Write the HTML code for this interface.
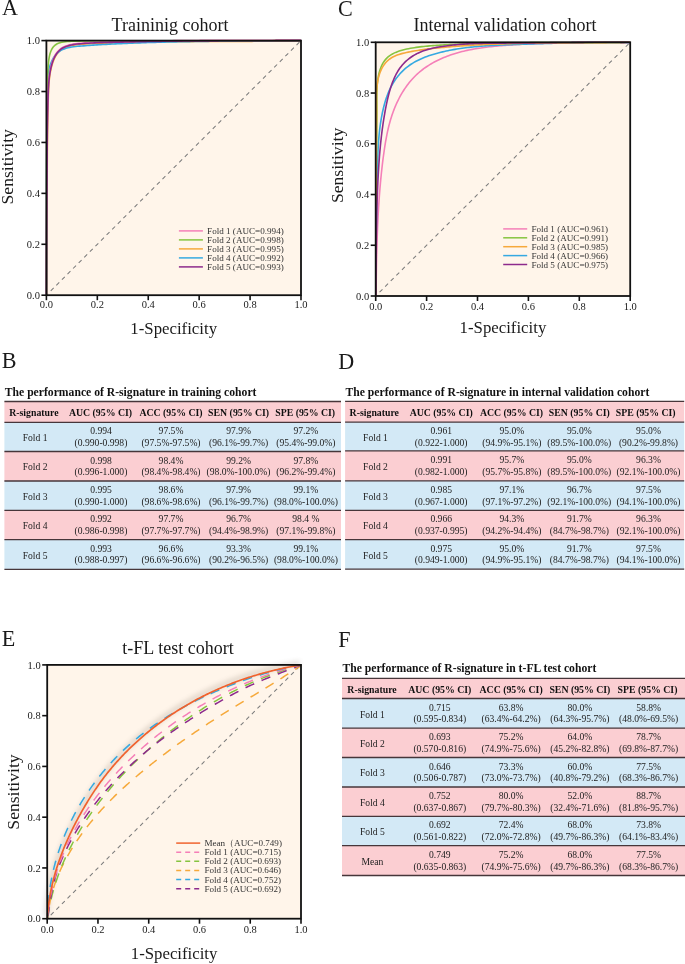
<!DOCTYPE html>
<html><head><meta charset="utf-8"><style>
html,body{margin:0;padding:0;background:#fff;width:685px;height:964px;overflow:hidden;position:relative}
text{font-family:"Liberation Serif",serif}
</style></head><body>
<svg width="685" height="964" viewBox="0 0 685 964" font-family="Liberation Serif, serif" style="position:absolute;left:0;top:0;will-change:transform">
<rect width="685" height="964" fill="#fff"/>
<defs><filter id="blur" x="-20%" y="-20%" width="140%" height="140%"><feGaussianBlur stdDeviation="2.8"/></filter></defs>
<text transform="translate(2.0,15.4) scale(0.95,1)" font-size="23.3" fill="#1a1a1a">A</text>
<text x="170.00" y="31.10" font-size="18" text-anchor="middle" font-weight="normal" fill="#1a1a1a" >Traininig cohort</text>
<rect x="46.4" y="40.599999999999994" width="254.6" height="254.6" fill="#fff5ea"/>
<line x1="301.0" y1="40.599999999999994" x2="46.4" y2="295.2" stroke="#7c7c7c" stroke-width="1.05" stroke-dasharray="4.1,3.8" stroke-dashoffset="5.7"/>
<path d="M46.72,295.77 L46.72,293.88 L46.72,291.99 L46.72,290.10 L46.72,288.21 L46.73,286.32 L46.73,284.43 L46.73,282.54 L46.73,280.65 L46.74,278.76 L46.74,276.87 L46.74,274.98 L46.75,273.08 L46.75,271.19 L46.76,269.30 L46.76,267.41 L46.76,265.51 L46.77,263.62 L46.77,261.72 L46.78,259.83 L46.78,257.93 L46.79,256.04 L46.80,254.14 L46.80,252.25 L46.81,250.35 L46.81,248.46 L46.82,246.56 L46.83,244.67 L46.84,242.77 L46.84,240.88 L46.85,238.98 L46.86,237.08 L46.86,235.19 L46.87,233.29 L46.88,231.39 L46.89,229.50 L46.90,227.60 L46.91,225.70 L46.92,223.81 L46.92,221.91 L46.93,220.01 L46.94,218.12 L46.95,216.22 L46.96,214.32 L46.97,212.43 L46.98,210.53 L46.99,208.63 L47.00,206.74 L47.01,204.84 L47.02,202.95 L47.03,201.05 L47.05,199.15 L47.06,197.26 L47.07,195.36 L47.08,193.47 L47.09,191.57 L47.10,189.68 L47.11,187.78 L47.13,185.89 L47.14,183.99 L47.15,182.10 L47.16,180.20 L47.18,178.31 L47.19,176.42 L47.20,174.52 L47.22,172.63 L47.23,170.74 L47.24,168.85 L47.26,166.96 L47.27,165.06 L47.28,163.17 L47.30,161.28 L47.31,159.39 L47.33,157.50 L47.34,155.61 L47.36,153.72 L47.37,151.83 L47.39,149.94 L47.40,148.06 L47.42,146.17 L47.44,144.28 L47.46,142.39 L47.47,140.50 L47.50,138.61 L47.52,136.72 L47.54,134.83 L47.56,132.94 L47.59,131.05 L47.61,129.16 L47.64,127.27 L47.67,125.38 L47.70,123.48 L47.73,121.59 L47.77,119.70 L47.80,117.80 L47.84,115.91 L47.88,114.01 L47.92,112.12 L47.97,110.22 L48.01,108.32 L48.06,106.42 L48.11,104.52 L48.16,102.62 L48.22,100.72 L48.28,98.81 L48.34,96.91 L48.40,95.00 L48.47,93.10 L48.54,91.19 L48.63,89.28 L48.73,87.37 L48.84,85.46 L48.97,83.56 L49.13,81.66 L49.32,79.76 L49.53,77.86 L49.77,75.97 L50.06,74.08 L50.38,72.19 L50.74,70.31 L51.15,68.44 L51.60,66.57 L52.11,64.72 L52.68,62.89 L53.32,61.10 L54.02,59.36 L54.81,57.69 L55.67,56.08 L56.62,54.56 L57.67,53.13 L58.81,51.81 L60.06,50.60 L61.43,49.53 L62.90,48.59 L64.47,47.78 L66.13,47.08 L67.87,46.49 L69.68,45.98 L71.55,45.56 L73.46,45.21 L75.40,44.92 L77.37,44.68 L79.35,44.48 L81.33,44.31 L83.30,44.16 L85.26,44.02 L87.21,43.89 L89.14,43.78 L91.06,43.67 L92.98,43.58 L94.88,43.49 L96.78,43.41 L98.67,43.34 L100.56,43.27 L102.44,43.21 L104.32,43.16 L106.19,43.11 L108.07,43.06 L109.95,43.01 L111.83,42.96 L113.70,42.91 L115.59,42.87 L117.47,42.82 L119.35,42.78 L121.24,42.73 L123.12,42.69 L125.01,42.64 L126.90,42.60 L128.78,42.56 L130.67,42.52 L132.56,42.48 L134.46,42.43 L136.35,42.40 L138.24,42.36 L140.13,42.32 L142.03,42.28 L143.92,42.24 L145.82,42.21 L147.72,42.17 L149.61,42.14 L151.51,42.10 L153.40,42.07 L155.30,42.04 L157.20,42.01 L159.10,41.98 L160.99,41.95 L162.89,41.92 L164.79,41.89 L166.69,41.87 L168.58,41.84 L170.48,41.81 L172.38,41.79 L174.28,41.77 L176.17,41.74 L178.07,41.72 L179.96,41.70 L181.86,41.68 L183.76,41.66 L185.65,41.64 L187.55,41.63 L189.44,41.61 L191.34,41.59 L193.23,41.58 L195.13,41.56 L197.02,41.55 L198.92,41.53 L200.81,41.52 L202.70,41.51 L204.60,41.50 L206.49,41.49 L208.39,41.48 L210.28,41.47 L212.17,41.46 L214.07,41.45 L215.96,41.44 L217.85,41.43 L219.75,41.42 L221.64,41.41 L223.53,41.41 L225.43,41.40 L227.32,41.39 L229.21,41.39 L231.11,41.38 L233.00,41.37 L234.89,41.37 L236.79,41.36 L238.68,41.36 L240.57,41.35 L242.47,41.35 L244.36,41.35 L246.25,41.34 L248.15,41.34 L250.04,41.33 L251.94,41.33 L253.83,41.32 L255.72,41.32 L257.62,41.32 L259.51,41.31 L261.40,41.31 L263.30,41.30 L265.19,41.30 L267.09,41.30 L268.98,41.29 L270.88,41.29 L272.77,41.28 L274.67,41.28 L276.56,41.27 L278.46,41.27 L280.35,41.26 L282.25,41.26 L284.14,41.25 L286.04,41.24 L287.93,41.24 L289.83,41.23 L291.73,41.22 L293.62,41.22 L295.52,41.21 L297.42,41.20 L299.32,41.19 L301.21,41.18" fill="none" stroke="#f6a93b" stroke-width="1.6" stroke-linecap="butt" />
<path d="M46.45,295.16 L46.47,293.28 L46.48,291.39 L46.49,289.51 L46.50,287.62 L46.51,285.74 L46.52,283.85 L46.53,281.96 L46.53,280.08 L46.54,278.19 L46.55,276.30 L46.55,274.41 L46.56,272.52 L46.57,270.63 L46.57,268.74 L46.57,266.85 L46.58,264.96 L46.58,263.07 L46.58,261.18 L46.59,259.28 L46.59,257.39 L46.59,255.50 L46.59,253.61 L46.59,251.71 L46.59,249.82 L46.59,247.92 L46.60,246.03 L46.60,244.14 L46.60,242.24 L46.60,240.35 L46.60,238.45 L46.59,236.56 L46.59,234.66 L46.59,232.77 L46.59,230.87 L46.59,228.98 L46.59,227.08 L46.59,225.18 L46.59,223.29 L46.59,221.39 L46.59,219.50 L46.59,217.60 L46.59,215.71 L46.59,213.81 L46.59,211.92 L46.59,210.02 L46.59,208.13 L46.59,206.23 L46.59,204.34 L46.59,202.44 L46.59,200.55 L46.60,198.66 L46.60,196.76 L46.60,194.87 L46.60,192.97 L46.61,191.08 L46.61,189.19 L46.61,187.30 L46.62,185.40 L46.62,183.51 L46.63,181.62 L46.64,179.73 L46.64,177.84 L46.65,175.95 L46.66,174.06 L46.67,172.17 L46.68,170.28 L46.69,168.39 L46.70,166.51 L46.71,164.62 L46.72,162.73 L46.73,160.85 L46.75,158.96 L46.76,157.08 L46.77,155.19 L46.79,153.31 L46.80,151.42 L46.82,149.54 L46.84,147.65 L46.85,145.77 L46.87,143.89 L46.88,142.00 L46.90,140.12 L46.92,138.23 L46.93,136.34 L46.95,134.46 L46.97,132.57 L46.98,130.68 L47.00,128.80 L47.01,126.91 L47.02,125.02 L47.04,123.12 L47.05,121.23 L47.06,119.34 L47.08,117.44 L47.09,115.55 L47.10,113.65 L47.10,111.75 L47.11,109.85 L47.12,107.95 L47.12,106.04 L47.13,104.14 L47.13,102.23 L47.13,100.32 L47.13,98.41 L47.13,96.49 L47.13,94.58 L47.13,92.66 L47.13,90.74 L47.14,88.82 L47.16,86.91 L47.21,84.99 L47.27,83.08 L47.37,81.18 L47.50,79.28 L47.67,77.39 L47.89,75.50 L48.15,73.63 L48.47,71.77 L48.85,69.91 L49.29,68.08 L49.80,66.26 L50.38,64.46 L51.04,62.70 L51.78,60.98 L52.61,59.33 L53.52,57.75 L54.52,56.25 L55.62,54.84 L56.81,53.54 L58.11,52.36 L59.51,51.31 L61.01,50.39 L62.61,49.59 L64.29,48.90 L66.05,48.31 L67.87,47.81 L69.74,47.40 L71.66,47.05 L73.62,46.76 L75.60,46.52 L77.59,46.32 L79.59,46.15 L81.58,45.99 L83.56,45.84 L85.52,45.70 L87.46,45.56 L89.40,45.42 L91.32,45.29 L93.23,45.16 L95.12,45.03 L97.01,44.91 L98.89,44.79 L100.77,44.68 L102.64,44.57 L104.50,44.46 L106.36,44.35 L108.22,44.25 L110.08,44.15 L111.94,44.05 L113.80,43.95 L115.66,43.86 L117.52,43.77 L119.39,43.68 L121.26,43.59 L123.14,43.51 L125.01,43.42 L126.89,43.34 L128.77,43.26 L130.65,43.19 L132.54,43.11 L134.42,43.04 L136.31,42.97 L138.20,42.90 L140.09,42.83 L141.99,42.76 L143.88,42.70 L145.78,42.63 L147.67,42.57 L149.57,42.51 L151.47,42.46 L153.36,42.40 L155.26,42.35 L157.16,42.29 L159.06,42.24 L160.96,42.19 L162.86,42.14 L164.76,42.10 L166.66,42.05 L168.56,42.01 L170.46,41.96 L172.35,41.92 L174.25,41.88 L176.15,41.84 L178.04,41.80 L179.94,41.77 L181.83,41.73 L183.73,41.70 L185.62,41.66 L187.52,41.63 L189.41,41.60 L191.30,41.57 L193.20,41.54 L195.09,41.51 L196.98,41.49 L198.87,41.46 L200.76,41.43 L202.65,41.41 L204.55,41.39 L206.44,41.36 L208.33,41.34 L210.22,41.32 L212.11,41.30 L214.00,41.28 L215.89,41.26 L217.78,41.24 L219.67,41.22 L221.55,41.20 L223.44,41.19 L225.33,41.17 L227.22,41.15 L229.11,41.14 L231.00,41.12 L232.89,41.11 L234.78,41.09 L236.67,41.08 L238.56,41.07 L240.44,41.05 L242.33,41.04 L244.22,41.03 L246.11,41.01 L248.00,41.00 L249.89,40.99 L251.78,40.97 L253.67,40.96 L255.56,40.95 L257.45,40.94 L259.34,40.92 L261.23,40.91 L263.13,40.90 L265.02,40.88 L266.91,40.87 L268.80,40.86 L270.69,40.84 L272.59,40.83 L274.48,40.82 L276.37,40.80 L278.27,40.79 L280.16,40.77 L282.06,40.76 L283.95,40.74 L285.85,40.72 L287.75,40.71 L289.64,40.69 L291.54,40.67 L293.44,40.65 L295.34,40.63 L297.24,40.62 L299.14,40.60 L301.04,40.57" fill="none" stroke="#35a9e1" stroke-width="1.6" stroke-linecap="butt" />
<path d="M46.51,295.18 L46.51,293.26 L46.51,291.35 L46.51,289.43 L46.51,287.51 L46.51,285.59 L46.51,283.66 L46.51,281.74 L46.51,279.82 L46.51,277.89 L46.52,275.97 L46.52,274.04 L46.52,272.11 L46.53,270.19 L46.53,268.26 L46.53,266.33 L46.54,264.40 L46.54,262.47 L46.54,260.54 L46.55,258.61 L46.55,256.68 L46.56,254.75 L46.56,252.82 L46.56,250.89 L46.57,248.96 L46.57,247.03 L46.58,245.10 L46.58,243.17 L46.58,241.24 L46.59,239.31 L46.59,237.38 L46.59,235.45 L46.60,233.52 L46.60,231.60 L46.60,229.67 L46.60,227.75 L46.60,225.82 L46.61,223.90 L46.61,221.97 L46.61,220.05 L46.61,218.13 L46.61,216.21 L46.61,214.29 L46.61,212.36 L46.61,210.44 L46.61,208.52 L46.61,206.60 L46.62,204.68 L46.62,202.76 L46.62,200.84 L46.62,198.92 L46.62,197.00 L46.62,195.08 L46.62,193.16 L46.62,191.24 L46.62,189.31 L46.62,187.39 L46.62,185.47 L46.63,183.55 L46.63,181.62 L46.63,179.70 L46.63,177.77 L46.63,175.85 L46.64,173.92 L46.64,172.00 L46.64,170.07 L46.65,168.14 L46.65,166.21 L46.65,164.28 L46.66,162.35 L46.66,160.41 L46.67,158.48 L46.68,156.54 L46.68,154.61 L46.69,152.67 L46.70,150.74 L46.70,148.80 L46.71,146.86 L46.72,144.93 L46.73,142.99 L46.74,141.05 L46.75,139.12 L46.76,137.18 L46.77,135.25 L46.78,133.31 L46.79,131.38 L46.81,129.45 L46.82,127.51 L46.83,125.58 L46.85,123.66 L46.86,121.73 L46.88,119.80 L46.90,117.88 L46.91,115.96 L46.93,114.04 L46.95,112.12 L46.97,110.20 L46.98,108.29 L47.00,106.38 L47.03,104.47 L47.05,102.57 L47.07,100.67 L47.09,98.77 L47.11,96.87 L47.14,94.98 L47.16,93.09 L47.19,91.20 L47.22,89.31 L47.25,87.42 L47.29,85.52 L47.34,83.62 L47.39,81.71 L47.45,79.79 L47.52,77.85 L47.60,75.90 L47.69,73.93 L47.79,71.95 L47.91,69.94 L48.04,67.91 L48.19,65.85 L48.37,63.78 L48.57,61.71 L48.83,59.65 L49.14,57.64 L49.53,55.68 L50.00,53.79 L50.58,51.99 L51.26,50.30 L52.07,48.73 L53.01,47.31 L54.10,46.05 L55.35,44.97 L56.76,44.07 L58.32,43.34 L60.00,42.76 L61.78,42.31 L63.66,41.97 L65.59,41.72 L67.58,41.54 L69.59,41.42 L71.60,41.32 L73.61,41.25 L75.60,41.19 L77.58,41.14 L79.55,41.10 L81.51,41.06 L83.45,41.04 L85.39,41.02 L87.33,41.01 L89.25,41.01 L91.18,41.01 L93.09,41.01 L95.01,41.01 L96.92,41.02 L98.83,41.02 L100.75,41.03 L102.66,41.03 L104.57,41.04 L106.49,41.04 L108.41,41.04 L110.32,41.04 L112.24,41.04 L114.16,41.04 L116.08,41.03 L118.00,41.03 L119.93,41.02 L121.85,41.02 L123.77,41.01 L125.69,41.00 L127.62,41.00 L129.54,40.99 L131.47,40.98 L133.40,40.97 L135.32,40.96 L137.25,40.95 L139.18,40.94 L141.10,40.93 L143.03,40.92 L144.96,40.91 L146.89,40.90 L148.82,40.89 L150.75,40.88 L152.67,40.87 L154.60,40.86 L156.53,40.85 L158.46,40.84 L160.39,40.83 L162.32,40.82 L164.25,40.81 L166.17,40.81 L168.10,40.80 L170.03,40.79 L171.96,40.78 L173.89,40.78 L175.81,40.77 L177.74,40.77 L179.67,40.76 L181.59,40.76 L183.52,40.75 L185.45,40.75 L187.37,40.74 L189.30,40.74 L191.23,40.74 L193.15,40.73 L195.08,40.73 L197.01,40.73 L198.93,40.73 L200.86,40.73 L202.78,40.72 L204.71,40.72 L206.63,40.72 L208.56,40.72 L210.48,40.72 L212.41,40.72 L214.34,40.72 L216.26,40.72 L218.19,40.72 L220.11,40.72 L222.04,40.72 L223.96,40.72 L225.89,40.71 L227.81,40.71 L229.74,40.71 L231.66,40.71 L233.59,40.71 L235.51,40.71 L237.44,40.71 L239.36,40.71 L241.29,40.71 L243.21,40.71 L245.14,40.71 L247.06,40.71 L248.99,40.71 L250.91,40.71 L252.84,40.70 L254.77,40.70 L256.69,40.70 L258.62,40.70 L260.54,40.70 L262.47,40.69 L264.39,40.69 L266.32,40.69 L268.25,40.68 L270.17,40.68 L272.10,40.68 L274.03,40.67 L275.95,40.67 L277.88,40.66 L279.81,40.66 L281.73,40.65 L283.66,40.64 L285.59,40.64 L287.51,40.63 L289.44,40.62 L291.37,40.61 L293.30,40.60 L295.23,40.60 L297.15,40.59 L299.08,40.58 L301.01,40.56" fill="none" stroke="#86c440" stroke-width="1.6" stroke-linecap="butt" />
<path d="M46.32,294.67 L46.32,292.78 L46.32,290.89 L46.32,289.00 L46.32,287.11 L46.33,285.22 L46.33,283.33 L46.33,281.44 L46.33,279.55 L46.34,277.66 L46.34,275.77 L46.34,273.88 L46.35,271.98 L46.35,270.09 L46.36,268.20 L46.36,266.31 L46.36,264.41 L46.37,262.52 L46.37,260.62 L46.38,258.73 L46.38,256.83 L46.39,254.94 L46.40,253.04 L46.40,251.15 L46.41,249.25 L46.41,247.36 L46.42,245.46 L46.43,243.57 L46.44,241.67 L46.44,239.78 L46.45,237.88 L46.46,235.98 L46.46,234.09 L46.47,232.19 L46.48,230.29 L46.49,228.40 L46.50,226.50 L46.51,224.60 L46.52,222.71 L46.52,220.81 L46.53,218.91 L46.54,217.02 L46.55,215.12 L46.56,213.22 L46.57,211.33 L46.58,209.43 L46.59,207.53 L46.60,205.64 L46.61,203.74 L46.62,201.85 L46.63,199.95 L46.65,198.05 L46.66,196.16 L46.67,194.26 L46.68,192.37 L46.69,190.47 L46.70,188.58 L46.71,186.68 L46.73,184.79 L46.74,182.89 L46.75,181.00 L46.76,179.10 L46.78,177.21 L46.79,175.32 L46.80,173.42 L46.82,171.53 L46.83,169.64 L46.84,167.75 L46.86,165.86 L46.87,163.96 L46.88,162.07 L46.90,160.18 L46.91,158.29 L46.93,156.40 L46.94,154.51 L46.96,152.62 L46.97,150.73 L46.99,148.84 L47.00,146.96 L47.02,145.07 L47.04,143.18 L47.06,141.29 L47.07,139.40 L47.10,137.51 L47.12,135.62 L47.14,133.73 L47.16,131.84 L47.19,129.95 L47.21,128.06 L47.24,126.17 L47.27,124.28 L47.30,122.38 L47.33,120.49 L47.37,118.60 L47.40,116.70 L47.44,114.81 L47.48,112.91 L47.52,111.02 L47.57,109.12 L47.61,107.22 L47.66,105.32 L47.71,103.42 L47.76,101.52 L47.82,99.62 L47.88,97.71 L47.94,95.81 L48.00,93.90 L48.07,92.00 L48.14,90.09 L48.23,88.18 L48.33,86.27 L48.44,84.36 L48.57,82.46 L48.73,80.56 L48.92,78.66 L49.13,76.76 L49.37,74.87 L49.66,72.98 L49.98,71.09 L50.34,69.21 L50.75,67.34 L51.20,65.47 L51.71,63.62 L52.28,61.79 L52.92,60.00 L53.62,58.26 L54.41,56.59 L55.27,54.98 L56.22,53.46 L57.27,52.03 L58.41,50.71 L59.66,49.50 L61.03,48.43 L62.50,47.49 L64.07,46.68 L65.73,45.98 L67.47,45.39 L69.28,44.88 L71.15,44.46 L73.06,44.11 L75.00,43.82 L76.97,43.58 L78.95,43.38 L80.93,43.21 L82.90,43.06 L84.86,42.92 L86.81,42.79 L88.74,42.68 L90.66,42.57 L92.58,42.48 L94.48,42.39 L96.38,42.31 L98.27,42.24 L100.16,42.17 L102.04,42.11 L103.92,42.06 L105.79,42.01 L107.67,41.96 L109.55,41.91 L111.43,41.86 L113.30,41.81 L115.19,41.77 L117.07,41.72 L118.95,41.68 L120.84,41.63 L122.72,41.59 L124.61,41.54 L126.50,41.50 L128.38,41.46 L130.27,41.42 L132.16,41.38 L134.06,41.33 L135.95,41.30 L137.84,41.26 L139.73,41.22 L141.63,41.18 L143.52,41.14 L145.42,41.11 L147.32,41.07 L149.21,41.04 L151.11,41.00 L153.00,40.97 L154.90,40.94 L156.80,40.91 L158.70,40.88 L160.59,40.85 L162.49,40.82 L164.39,40.79 L166.29,40.77 L168.18,40.74 L170.08,40.71 L171.98,40.69 L173.88,40.67 L175.77,40.64 L177.67,40.62 L179.56,40.60 L181.46,40.58 L183.36,40.56 L185.25,40.54 L187.15,40.53 L189.04,40.51 L190.94,40.49 L192.83,40.48 L194.73,40.46 L196.62,40.45 L198.52,40.43 L200.41,40.42 L202.30,40.41 L204.20,40.40 L206.09,40.39 L207.99,40.38 L209.88,40.37 L211.77,40.36 L213.67,40.35 L215.56,40.34 L217.45,40.33 L219.35,40.32 L221.24,40.31 L223.13,40.31 L225.03,40.30 L226.92,40.29 L228.81,40.29 L230.71,40.28 L232.60,40.27 L234.49,40.27 L236.39,40.26 L238.28,40.26 L240.17,40.25 L242.07,40.25 L243.96,40.25 L245.85,40.24 L247.75,40.24 L249.64,40.23 L251.54,40.23 L253.43,40.22 L255.32,40.22 L257.22,40.22 L259.11,40.21 L261.00,40.21 L262.90,40.20 L264.79,40.20 L266.69,40.20 L268.58,40.19 L270.48,40.19 L272.37,40.18 L274.27,40.18 L276.16,40.17 L278.06,40.17 L279.95,40.16 L281.85,40.16 L283.74,40.15 L285.64,40.14 L287.53,40.14 L289.43,40.13 L291.33,40.12 L293.22,40.12 L295.12,40.11 L297.02,40.10 L298.92,40.09 L300.81,40.08" fill="none" stroke="#f57fb8" stroke-width="1.6" stroke-linecap="butt" />
<path d="M46.52,295.17 L46.52,293.28 L46.52,291.39 L46.52,289.50 L46.52,287.61 L46.53,285.72 L46.53,283.83 L46.53,281.94 L46.53,280.05 L46.54,278.16 L46.54,276.27 L46.54,274.38 L46.55,272.48 L46.55,270.59 L46.56,268.70 L46.56,266.81 L46.56,264.91 L46.57,263.02 L46.57,261.12 L46.58,259.23 L46.58,257.33 L46.59,255.44 L46.60,253.54 L46.60,251.65 L46.61,249.75 L46.61,247.86 L46.62,245.96 L46.63,244.07 L46.64,242.17 L46.64,240.28 L46.65,238.38 L46.66,236.48 L46.66,234.59 L46.67,232.69 L46.68,230.79 L46.69,228.90 L46.70,227.00 L46.71,225.10 L46.72,223.21 L46.72,221.31 L46.73,219.41 L46.74,217.52 L46.75,215.62 L46.76,213.72 L46.77,211.83 L46.78,209.93 L46.79,208.03 L46.80,206.14 L46.81,204.24 L46.82,202.35 L46.83,200.45 L46.85,198.55 L46.86,196.66 L46.87,194.76 L46.88,192.87 L46.89,190.97 L46.90,189.08 L46.91,187.18 L46.93,185.29 L46.94,183.39 L46.95,181.50 L46.96,179.60 L46.98,177.71 L46.99,175.82 L47.00,173.92 L47.02,172.03 L47.03,170.14 L47.04,168.25 L47.06,166.36 L47.07,164.46 L47.08,162.57 L47.10,160.68 L47.11,158.79 L47.13,156.90 L47.14,155.01 L47.16,153.12 L47.17,151.23 L47.19,149.34 L47.20,147.46 L47.22,145.57 L47.24,143.68 L47.26,141.79 L47.27,139.90 L47.30,138.01 L47.32,136.12 L47.34,134.23 L47.36,132.34 L47.39,130.45 L47.41,128.56 L47.44,126.67 L47.47,124.78 L47.50,122.88 L47.53,120.99 L47.57,119.10 L47.60,117.20 L47.64,115.31 L47.68,113.41 L47.72,111.52 L47.77,109.62 L47.81,107.72 L47.86,105.82 L47.91,103.92 L47.96,102.02 L48.02,100.12 L48.08,98.21 L48.14,96.31 L48.20,94.40 L48.27,92.50 L48.34,90.59 L48.43,88.68 L48.53,86.77 L48.64,84.86 L48.77,82.96 L48.93,81.06 L49.12,79.16 L49.33,77.26 L49.57,75.37 L49.86,73.48 L50.18,71.59 L50.54,69.71 L50.95,67.84 L51.40,65.97 L51.91,64.12 L52.48,62.29 L53.12,60.50 L53.82,58.76 L54.61,57.09 L55.47,55.48 L56.42,53.96 L57.47,52.53 L58.61,51.21 L59.86,50.00 L61.23,48.93 L62.70,47.99 L64.27,47.18 L65.93,46.48 L67.67,45.89 L69.48,45.38 L71.35,44.96 L73.26,44.61 L75.20,44.32 L77.17,44.08 L79.15,43.88 L81.13,43.71 L83.10,43.56 L85.06,43.42 L87.01,43.29 L88.94,43.18 L90.86,43.07 L92.78,42.98 L94.68,42.89 L96.58,42.81 L98.47,42.74 L100.36,42.67 L102.24,42.61 L104.12,42.56 L105.99,42.51 L107.87,42.46 L109.75,42.41 L111.63,42.36 L113.50,42.31 L115.39,42.27 L117.27,42.22 L119.15,42.18 L121.04,42.13 L122.92,42.09 L124.81,42.04 L126.70,42.00 L128.58,41.96 L130.47,41.92 L132.36,41.88 L134.26,41.83 L136.15,41.80 L138.04,41.76 L139.93,41.72 L141.83,41.68 L143.72,41.64 L145.62,41.61 L147.52,41.57 L149.41,41.54 L151.31,41.50 L153.20,41.47 L155.10,41.44 L157.00,41.41 L158.90,41.38 L160.79,41.35 L162.69,41.32 L164.59,41.29 L166.49,41.27 L168.38,41.24 L170.28,41.21 L172.18,41.19 L174.08,41.17 L175.97,41.14 L177.87,41.12 L179.76,41.10 L181.66,41.08 L183.56,41.06 L185.45,41.04 L187.35,41.03 L189.24,41.01 L191.14,40.99 L193.03,40.98 L194.93,40.96 L196.82,40.95 L198.72,40.93 L200.61,40.92 L202.50,40.91 L204.40,40.90 L206.29,40.89 L208.19,40.88 L210.08,40.87 L211.97,40.86 L213.87,40.85 L215.76,40.84 L217.65,40.83 L219.55,40.82 L221.44,40.81 L223.33,40.81 L225.23,40.80 L227.12,40.79 L229.01,40.79 L230.91,40.78 L232.80,40.77 L234.69,40.77 L236.59,40.76 L238.48,40.76 L240.37,40.75 L242.27,40.75 L244.16,40.75 L246.05,40.74 L247.95,40.74 L249.84,40.73 L251.74,40.73 L253.63,40.72 L255.52,40.72 L257.42,40.72 L259.31,40.71 L261.20,40.71 L263.10,40.70 L264.99,40.70 L266.89,40.70 L268.78,40.69 L270.68,40.69 L272.57,40.68 L274.47,40.68 L276.36,40.67 L278.26,40.67 L280.15,40.66 L282.05,40.66 L283.94,40.65 L285.84,40.64 L287.73,40.64 L289.63,40.63 L291.53,40.62 L293.42,40.62 L295.32,40.61 L297.22,40.60 L299.12,40.59 L301.01,40.58" fill="none" stroke="#8d2a8c" stroke-width="1.6" stroke-linecap="butt" />
<rect x="46.4" y="40.599999999999994" width="254.6" height="254.6" fill="none" stroke="#111" stroke-width="1.8"/>
<line x1="41.4" y1="295.20" x2="46.4" y2="295.20" stroke="#111" stroke-width="1.6"/>
<text x="39.90" y="298.80" font-size="10.5" text-anchor="end" font-weight="normal" fill="#1a1a1a" >0.0</text>
<line x1="46.40" y1="295.2" x2="46.40" y2="300.2" stroke="#111" stroke-width="1.6"/>
<text x="46.40" y="308.20" font-size="10.5" text-anchor="middle" font-weight="normal" fill="#1a1a1a" >0.0</text>
<line x1="41.4" y1="244.28" x2="46.4" y2="244.28" stroke="#111" stroke-width="1.6"/>
<text x="39.90" y="247.88" font-size="10.5" text-anchor="end" font-weight="normal" fill="#1a1a1a" >0.2</text>
<line x1="97.32" y1="295.2" x2="97.32" y2="300.2" stroke="#111" stroke-width="1.6"/>
<text x="97.32" y="308.20" font-size="10.5" text-anchor="middle" font-weight="normal" fill="#1a1a1a" >0.2</text>
<line x1="41.4" y1="193.36" x2="46.4" y2="193.36" stroke="#111" stroke-width="1.6"/>
<text x="39.90" y="196.96" font-size="10.5" text-anchor="end" font-weight="normal" fill="#1a1a1a" >0.4</text>
<line x1="148.24" y1="295.2" x2="148.24" y2="300.2" stroke="#111" stroke-width="1.6"/>
<text x="148.24" y="308.20" font-size="10.5" text-anchor="middle" font-weight="normal" fill="#1a1a1a" >0.4</text>
<line x1="41.4" y1="142.44" x2="46.4" y2="142.44" stroke="#111" stroke-width="1.6"/>
<text x="39.90" y="146.04" font-size="10.5" text-anchor="end" font-weight="normal" fill="#1a1a1a" >0.6</text>
<line x1="199.16" y1="295.2" x2="199.16" y2="300.2" stroke="#111" stroke-width="1.6"/>
<text x="199.16" y="308.20" font-size="10.5" text-anchor="middle" font-weight="normal" fill="#1a1a1a" >0.6</text>
<line x1="41.4" y1="91.52" x2="46.4" y2="91.52" stroke="#111" stroke-width="1.6"/>
<text x="39.90" y="95.12" font-size="10.5" text-anchor="end" font-weight="normal" fill="#1a1a1a" >0.8</text>
<line x1="250.08" y1="295.2" x2="250.08" y2="300.2" stroke="#111" stroke-width="1.6"/>
<text x="250.08" y="308.20" font-size="10.5" text-anchor="middle" font-weight="normal" fill="#1a1a1a" >0.8</text>
<line x1="41.4" y1="40.60" x2="46.4" y2="40.60" stroke="#111" stroke-width="1.6"/>
<text x="39.90" y="44.20" font-size="10.5" text-anchor="end" font-weight="normal" fill="#1a1a1a" >1.0</text>
<line x1="301.00" y1="295.2" x2="301.00" y2="300.2" stroke="#111" stroke-width="1.6"/>
<text x="301.00" y="308.20" font-size="10.5" text-anchor="middle" font-weight="normal" fill="#1a1a1a" >1.0</text>
<text x="173.70" y="333.80" font-size="16.8" text-anchor="middle" font-weight="normal" fill="#1a1a1a" >1-Specificity</text>
<text x="0" y="0" font-size="17.6" text-anchor="middle" fill="#1a1a1a" transform="translate(13.0,166.8) rotate(-90)">Sensitivity</text>
<line x1="178.9" y1="230.90" x2="202.9" y2="230.90" stroke="#f57fb8" stroke-width="1.5"/>
<text x="207.10" y="233.90" font-size="9.1" text-anchor="start" font-weight="normal" fill="#333" >Fold 1 (AUC=0.994)</text>
<line x1="178.9" y1="239.90" x2="202.9" y2="239.90" stroke="#86c440" stroke-width="1.5"/>
<text x="207.10" y="242.90" font-size="9.1" text-anchor="start" font-weight="normal" fill="#333" >Fold 2 (AUC=0.998)</text>
<line x1="178.9" y1="248.90" x2="202.9" y2="248.90" stroke="#f6a93b" stroke-width="1.5"/>
<text x="207.10" y="251.90" font-size="9.1" text-anchor="start" font-weight="normal" fill="#333" >Fold 3 (AUC=0.995)</text>
<line x1="178.9" y1="257.90" x2="202.9" y2="257.90" stroke="#35a9e1" stroke-width="1.5"/>
<text x="207.10" y="260.90" font-size="9.1" text-anchor="start" font-weight="normal" fill="#333" >Fold 4 (AUC=0.992)</text>
<line x1="178.9" y1="266.90" x2="202.9" y2="266.90" stroke="#8d2a8c" stroke-width="1.5"/>
<text x="207.10" y="269.90" font-size="9.1" text-anchor="start" font-weight="normal" fill="#333" >Fold 5 (AUC=0.993)</text>
<text transform="translate(338.0,16.1) scale(0.95,1)" font-size="23.3" fill="#1a1a1a">C</text>
<text x="505.00" y="31.10" font-size="18" text-anchor="middle" font-weight="normal" fill="#1a1a1a" >Internal validation cohort</text>
<rect x="375.7" y="42.30000000000001" width="254.5" height="253.7" fill="#fff5ea"/>
<line x1="630.2" y1="42.30000000000001" x2="375.7" y2="296.0" stroke="#7c7c7c" stroke-width="1.05" stroke-dasharray="4.1,3.8" stroke-dashoffset="5.7"/>
<path d="M376.07,296.01 L376.08,294.27 L376.10,292.53 L376.12,290.79 L376.13,289.05 L376.15,287.31 L376.17,285.57 L376.19,283.83 L376.21,282.09 L376.23,280.35 L376.26,278.61 L376.28,276.87 L376.30,275.13 L376.33,273.39 L376.35,271.65 L376.38,269.91 L376.41,268.18 L376.44,266.44 L376.47,264.70 L376.50,262.96 L376.54,261.22 L376.57,259.48 L376.61,257.74 L376.65,256.00 L376.69,254.26 L376.73,252.52 L376.78,250.78 L376.82,249.04 L376.87,247.30 L376.92,245.56 L376.97,243.82 L377.02,242.09 L377.08,240.35 L377.14,238.61 L377.19,236.87 L377.26,235.13 L377.32,233.40 L377.39,231.66 L377.46,229.92 L377.53,228.18 L377.60,226.45 L377.68,224.71 L377.76,222.97 L377.84,221.24 L377.92,219.50 L378.01,217.77 L378.10,216.03 L378.19,214.30 L378.29,212.56 L378.39,210.83 L378.49,209.09 L378.59,207.36 L378.70,205.62 L378.81,203.89 L378.93,202.16 L379.05,200.43 L379.17,198.69 L379.29,196.96 L379.42,195.23 L379.55,193.50 L379.69,191.77 L379.83,190.04 L379.97,188.31 L380.12,186.58 L380.27,184.85 L380.42,183.12 L380.58,181.40 L380.74,179.67 L380.91,177.94 L381.08,176.21 L381.25,174.49 L381.43,172.76 L381.62,171.04 L381.80,169.31 L382.00,167.59 L382.20,165.86 L382.40,164.14 L382.61,162.41 L382.82,160.69 L383.04,158.96 L383.27,157.24 L383.50,155.51 L383.74,153.79 L383.98,152.06 L384.23,150.34 L384.48,148.61 L384.75,146.88 L385.02,145.16 L385.30,143.44 L385.59,141.71 L385.89,139.99 L386.20,138.27 L386.52,136.56 L386.86,134.84 L387.21,133.13 L387.57,131.42 L387.95,129.71 L388.35,128.01 L388.76,126.31 L389.19,124.62 L389.64,122.93 L390.11,121.25 L390.60,119.57 L391.11,117.90 L391.65,116.23 L392.20,114.57 L392.78,112.92 L393.38,111.27 L394.00,109.64 L394.64,108.01 L395.31,106.40 L396.00,104.79 L396.72,103.20 L397.46,101.62 L398.22,100.06 L399.00,98.51 L399.81,96.97 L400.64,95.45 L401.50,93.95 L402.39,92.46 L403.29,90.99 L404.23,89.54 L405.18,88.11 L406.17,86.70 L407.17,85.31 L408.21,83.95 L409.27,82.60 L410.36,81.28 L411.47,79.98 L412.61,78.71 L413.77,77.46 L414.97,76.24 L416.19,75.04 L417.43,73.88 L418.71,72.74 L420.01,71.63 L421.34,70.55 L422.69,69.50 L424.07,68.47 L425.47,67.48 L426.90,66.51 L428.34,65.57 L429.81,64.65 L431.30,63.77 L432.80,62.91 L434.33,62.07 L435.87,61.26 L437.42,60.48 L438.99,59.72 L440.58,58.99 L442.18,58.28 L443.79,57.60 L445.41,56.94 L447.04,56.30 L448.68,55.69 L450.33,55.10 L451.98,54.54 L453.64,53.99 L455.31,53.47 L456.98,52.97 L458.66,52.49 L460.34,52.04 L462.03,51.60 L463.72,51.18 L465.41,50.78 L467.11,50.40 L468.82,50.03 L470.52,49.69 L472.23,49.36 L473.95,49.04 L475.66,48.74 L477.38,48.46 L479.10,48.18 L480.83,47.93 L482.55,47.68 L484.28,47.45 L486.01,47.23 L487.75,47.01 L489.48,46.81 L491.22,46.62 L492.95,46.44 L494.69,46.27 L496.43,46.10 L498.17,45.95 L499.91,45.79 L501.64,45.65 L503.38,45.51 L505.12,45.38 L506.86,45.25 L508.60,45.12 L510.34,45.00 L512.08,44.88 L513.81,44.77 L515.55,44.66 L517.29,44.55 L519.02,44.45 L520.76,44.35 L522.50,44.26 L524.23,44.17 L525.97,44.08 L527.70,44.00 L529.44,43.91 L531.17,43.84 L532.91,43.76 L534.64,43.69 L536.38,43.62 L538.11,43.55 L539.84,43.49 L541.58,43.43 L543.31,43.37 L545.05,43.32 L546.78,43.27 L548.51,43.22 L550.25,43.17 L551.98,43.12 L553.71,43.08 L555.45,43.04 L557.18,43.00 L558.92,42.96 L560.65,42.93 L562.38,42.90 L564.12,42.86 L565.85,42.83 L567.59,42.81 L569.32,42.78 L571.06,42.76 L572.79,42.73 L574.53,42.71 L576.26,42.69 L578.00,42.67 L579.73,42.65 L581.47,42.63 L583.21,42.62 L584.94,42.60 L586.68,42.59 L588.42,42.57 L590.15,42.56 L591.89,42.55 L593.63,42.54 L595.37,42.52 L597.11,42.51 L598.85,42.50 L600.59,42.49 L602.33,42.48 L604.07,42.47 L605.81,42.46 L607.56,42.45 L609.30,42.44 L611.04,42.43 L612.78,42.42 L614.53,42.40 L616.27,42.39 L618.02,42.38 L619.77,42.37 L621.51,42.35 L623.26,42.34 L625.01,42.32 L626.76,42.31 L628.51,42.29 L630.26,42.27" fill="none" stroke="#f57fb8" stroke-width="1.6" stroke-linecap="butt" />
<path d="M376.14,296.06 L376.12,294.25 L376.10,292.45 L376.09,290.65 L376.07,288.85 L376.06,287.05 L376.05,285.25 L376.04,283.45 L376.03,281.65 L376.02,279.86 L376.02,278.06 L376.01,276.27 L376.01,274.47 L376.01,272.68 L376.01,270.88 L376.01,269.09 L376.01,267.30 L376.01,265.50 L376.02,263.71 L376.02,261.92 L376.03,260.13 L376.04,258.34 L376.05,256.55 L376.06,254.76 L376.07,252.97 L376.08,251.18 L376.09,249.39 L376.11,247.60 L376.12,245.81 L376.14,244.02 L376.16,242.24 L376.17,240.45 L376.19,238.66 L376.21,236.87 L376.23,235.09 L376.26,233.30 L376.28,231.51 L376.30,229.72 L376.33,227.94 L376.35,226.15 L376.38,224.36 L376.40,222.58 L376.43,220.79 L376.46,219.00 L376.49,217.22 L376.52,215.43 L376.55,213.64 L376.58,211.85 L376.61,210.07 L376.64,208.28 L376.67,206.49 L376.71,204.70 L376.74,202.92 L376.77,201.13 L376.81,199.34 L376.84,197.55 L376.88,195.76 L376.92,193.97 L376.95,192.18 L376.99,190.39 L377.03,188.60 L377.06,186.81 L377.10,185.02 L377.14,183.23 L377.18,181.44 L377.22,179.64 L377.26,177.85 L377.30,176.06 L377.34,174.26 L377.38,172.47 L377.42,170.67 L377.46,168.88 L377.50,167.08 L377.54,165.29 L377.59,163.49 L377.64,161.69 L377.69,159.90 L377.75,158.10 L377.81,156.30 L377.87,154.51 L377.94,152.71 L378.02,150.92 L378.11,149.12 L378.20,147.33 L378.30,145.53 L378.41,143.74 L378.53,141.95 L378.66,140.16 L378.80,138.37 L378.96,136.59 L379.12,134.80 L379.30,133.02 L379.49,131.24 L379.69,129.45 L379.91,127.68 L380.14,125.90 L380.39,124.13 L380.65,122.35 L380.93,120.58 L381.23,118.82 L381.54,117.05 L381.88,115.29 L382.23,113.53 L382.60,111.77 L382.99,110.02 L383.41,108.27 L383.84,106.52 L384.30,104.78 L384.78,103.04 L385.29,101.31 L385.82,99.58 L386.39,97.87 L386.98,96.17 L387.60,94.49 L388.26,92.82 L388.96,91.16 L389.69,89.53 L390.46,87.92 L391.27,86.34 L392.12,84.77 L393.01,83.24 L393.94,81.73 L394.91,80.25 L395.93,78.80 L396.98,77.38 L398.07,76.00 L399.20,74.65 L400.36,73.34 L401.57,72.06 L402.81,70.82 L404.08,69.62 L405.40,68.47 L406.75,67.35 L408.13,66.28 L409.55,65.25 L411.01,64.27 L412.49,63.32 L414.00,62.42 L415.54,61.55 L417.11,60.72 L418.70,59.92 L420.31,59.16 L421.95,58.44 L423.60,57.74 L425.28,57.08 L426.97,56.44 L428.67,55.84 L430.39,55.26 L432.12,54.70 L433.85,54.18 L435.60,53.67 L437.35,53.19 L439.11,52.72 L440.88,52.28 L442.64,51.86 L444.40,51.45 L446.17,51.06 L447.94,50.68 L449.71,50.33 L451.47,49.99 L453.24,49.66 L455.01,49.35 L456.79,49.05 L458.56,48.77 L460.33,48.50 L462.11,48.24 L463.88,48.00 L465.66,47.76 L467.43,47.54 L469.21,47.34 L470.99,47.14 L472.76,46.95 L474.54,46.77 L476.32,46.61 L478.10,46.45 L479.88,46.30 L481.67,46.16 L483.45,46.02 L485.23,45.90 L487.01,45.78 L488.80,45.66 L490.58,45.56 L492.36,45.46 L494.15,45.36 L495.93,45.27 L497.72,45.18 L499.51,45.10 L501.29,45.02 L503.08,44.95 L504.86,44.87 L506.65,44.80 L508.44,44.73 L510.23,44.66 L512.01,44.60 L513.80,44.53 L515.59,44.46 L517.38,44.40 L519.17,44.33 L520.96,44.27 L522.74,44.21 L524.53,44.15 L526.32,44.09 L528.11,44.03 L529.90,43.97 L531.69,43.92 L533.48,43.86 L535.27,43.80 L537.06,43.75 L538.85,43.70 L540.64,43.65 L542.43,43.59 L544.22,43.54 L546.01,43.50 L547.80,43.45 L549.60,43.40 L551.39,43.35 L553.18,43.31 L554.97,43.27 L556.76,43.22 L558.55,43.18 L560.34,43.14 L562.13,43.10 L563.93,43.06 L565.72,43.02 L567.51,42.99 L569.30,42.95 L571.09,42.92 L572.88,42.88 L574.67,42.85 L576.47,42.82 L578.26,42.79 L580.05,42.76 L581.84,42.73 L583.63,42.71 L585.42,42.68 L587.22,42.66 L589.01,42.63 L590.80,42.61 L592.59,42.59 L594.38,42.57 L596.17,42.55 L597.97,42.54 L599.76,42.52 L601.55,42.50 L603.34,42.49 L605.13,42.48 L606.92,42.47 L608.71,42.45 L610.50,42.45 L612.29,42.44 L614.08,42.43 L615.88,42.43 L617.67,42.42 L619.46,42.42 L621.25,42.42 L623.04,42.42 L624.83,42.42 L626.62,42.42 L628.41,42.42 L630.20,42.43" fill="none" stroke="#35a9e1" stroke-width="1.6" stroke-linecap="butt" />
<path d="M375.96,295.96 L375.97,294.09 L375.99,292.22 L376.00,290.35 L376.01,288.48 L376.02,286.61 L376.03,284.73 L376.04,282.86 L376.05,280.99 L376.06,279.11 L376.06,277.24 L376.07,275.36 L376.08,273.49 L376.08,271.61 L376.09,269.73 L376.09,267.86 L376.10,265.98 L376.10,264.10 L376.10,262.22 L376.11,260.35 L376.11,258.47 L376.11,256.59 L376.11,254.71 L376.12,252.83 L376.12,250.95 L376.12,249.07 L376.12,247.19 L376.12,245.31 L376.12,243.43 L376.13,241.55 L376.13,239.66 L376.13,237.78 L376.13,235.90 L376.13,234.02 L376.13,232.14 L376.13,230.26 L376.13,228.37 L376.13,226.49 L376.13,224.61 L376.14,222.73 L376.14,220.85 L376.14,218.97 L376.14,217.08 L376.14,215.20 L376.15,213.32 L376.15,211.44 L376.15,209.56 L376.16,207.68 L376.16,205.80 L376.16,203.92 L376.17,202.04 L376.17,200.16 L376.18,198.28 L376.19,196.40 L376.19,194.52 L376.20,192.64 L376.21,190.76 L376.22,188.88 L376.23,187.00 L376.24,185.12 L376.25,183.25 L376.26,181.37 L376.27,179.49 L376.28,177.62 L376.30,175.74 L376.31,173.87 L376.33,171.99 L376.35,170.12 L376.36,168.24 L376.38,166.37 L376.40,164.50 L376.42,162.63 L376.44,160.76 L376.46,158.89 L376.48,157.01 L376.51,155.14 L376.53,153.27 L376.55,151.40 L376.58,149.53 L376.60,147.66 L376.62,145.79 L376.64,143.92 L376.67,142.05 L376.69,140.18 L376.71,138.31 L376.73,136.43 L376.75,134.56 L376.77,132.69 L376.79,130.81 L376.80,128.94 L376.82,127.06 L376.83,125.18 L376.84,123.31 L376.86,121.43 L376.86,119.54 L376.87,117.66 L376.88,115.78 L376.88,113.89 L376.88,112.01 L376.88,110.12 L376.87,108.23 L376.87,106.34 L376.86,104.44 L376.85,102.55 L376.83,100.65 L376.82,98.75 L376.82,96.85 L376.83,94.95 L376.85,93.04 L376.90,91.14 L376.96,89.23 L377.06,87.32 L377.18,85.42 L377.35,83.51 L377.55,81.60 L377.79,79.69 L378.09,77.79 L378.43,75.90 L378.84,74.04 L379.30,72.21 L379.82,70.41 L380.42,68.65 L381.08,66.94 L381.82,65.29 L382.65,63.70 L383.55,62.18 L384.54,60.74 L385.63,59.38 L386.81,58.12 L388.08,56.95 L389.45,55.87 L390.91,54.88 L392.44,53.97 L394.05,53.14 L395.72,52.39 L397.44,51.70 L399.22,51.07 L401.03,50.50 L402.88,49.98 L404.75,49.51 L406.65,49.08 L408.55,48.69 L410.46,48.33 L412.37,48.00 L414.27,47.69 L416.17,47.40 L418.07,47.13 L419.96,46.89 L421.85,46.66 L423.73,46.45 L425.61,46.26 L427.49,46.08 L429.37,45.91 L431.25,45.76 L433.12,45.61 L434.99,45.48 L436.87,45.36 L438.74,45.24 L440.61,45.13 L442.48,45.02 L444.35,44.91 L446.22,44.81 L448.09,44.71 L449.97,44.62 L451.84,44.53 L453.71,44.44 L455.58,44.35 L457.46,44.27 L459.33,44.19 L461.20,44.11 L463.07,44.04 L464.95,43.96 L466.82,43.89 L468.70,43.83 L470.57,43.76 L472.45,43.70 L474.32,43.64 L476.19,43.58 L478.07,43.53 L479.94,43.48 L481.82,43.43 L483.70,43.38 L485.57,43.33 L487.45,43.29 L489.32,43.24 L491.20,43.20 L493.08,43.16 L494.95,43.13 L496.83,43.09 L498.71,43.06 L500.58,43.02 L502.46,42.99 L504.34,42.96 L506.21,42.93 L508.09,42.90 L509.97,42.88 L511.85,42.85 L513.73,42.83 L515.60,42.81 L517.48,42.78 L519.36,42.76 L521.24,42.74 L523.12,42.73 L525.00,42.71 L526.87,42.69 L528.75,42.68 L530.63,42.66 L532.51,42.65 L534.39,42.64 L536.27,42.62 L538.15,42.61 L540.03,42.60 L541.91,42.59 L543.79,42.58 L545.66,42.57 L547.54,42.57 L549.42,42.56 L551.30,42.55 L553.18,42.54 L555.06,42.54 L556.94,42.53 L558.82,42.53 L560.70,42.52 L562.58,42.52 L564.46,42.51 L566.34,42.51 L568.22,42.51 L570.10,42.50 L571.98,42.50 L573.85,42.49 L575.73,42.49 L577.61,42.49 L579.49,42.48 L581.37,42.48 L583.25,42.48 L585.13,42.47 L587.01,42.47 L588.89,42.46 L590.77,42.46 L592.64,42.46 L594.52,42.45 L596.40,42.45 L598.28,42.44 L600.16,42.43 L602.03,42.43 L603.91,42.42 L605.79,42.41 L607.67,42.41 L609.55,42.40 L611.42,42.39 L613.30,42.38 L615.18,42.37 L617.05,42.36 L618.93,42.35 L620.81,42.33 L622.68,42.32 L624.56,42.31 L626.44,42.29 L628.31,42.27 L630.19,42.26" fill="none" stroke="#86c440" stroke-width="1.6" stroke-linecap="butt" />
<path d="M375.97,295.95 L375.98,294.09 L375.99,292.24 L376.00,290.38 L376.00,288.52 L376.01,286.66 L376.02,284.80 L376.02,282.95 L376.03,281.08 L376.03,279.22 L376.04,277.36 L376.04,275.50 L376.04,273.64 L376.05,271.77 L376.05,269.91 L376.05,268.04 L376.06,266.18 L376.06,264.31 L376.06,262.45 L376.06,260.58 L376.06,258.71 L376.06,256.84 L376.06,254.98 L376.06,253.11 L376.06,251.24 L376.07,249.37 L376.07,247.50 L376.07,245.63 L376.07,243.76 L376.06,241.89 L376.06,240.02 L376.06,238.15 L376.06,236.28 L376.06,234.41 L376.06,232.54 L376.06,230.67 L376.06,228.80 L376.06,226.93 L376.06,225.05 L376.06,223.18 L376.06,221.31 L376.06,219.44 L376.06,217.57 L376.06,215.70 L376.07,213.83 L376.07,211.96 L376.07,210.09 L376.07,208.22 L376.07,206.35 L376.07,204.48 L376.08,202.61 L376.08,200.74 L376.08,198.87 L376.09,197.00 L376.09,195.14 L376.09,193.27 L376.10,191.40 L376.10,189.53 L376.11,187.67 L376.11,185.80 L376.12,183.94 L376.13,182.07 L376.14,180.21 L376.14,178.35 L376.15,176.48 L376.16,174.62 L376.17,172.76 L376.18,170.90 L376.19,169.04 L376.20,167.18 L376.22,165.32 L376.23,163.46 L376.24,161.60 L376.26,159.75 L376.27,157.89 L376.29,156.04 L376.30,154.18 L376.32,152.32 L376.33,150.47 L376.35,148.61 L376.36,146.76 L376.38,144.90 L376.39,143.04 L376.41,141.18 L376.42,139.33 L376.44,137.47 L376.45,135.61 L376.46,133.75 L376.48,131.88 L376.49,130.02 L376.50,128.15 L376.51,126.29 L376.52,124.42 L376.53,122.55 L376.53,120.68 L376.54,118.80 L376.54,116.93 L376.55,115.05 L376.55,113.17 L376.55,111.28 L376.55,109.40 L376.54,107.51 L376.54,105.62 L376.53,103.72 L376.52,101.83 L376.51,99.93 L376.52,98.03 L376.53,96.13 L376.56,94.23 L376.61,92.33 L376.70,90.44 L376.82,88.54 L376.97,86.66 L377.18,84.78 L377.43,82.91 L377.74,81.05 L378.10,79.19 L378.53,77.36 L379.03,75.56 L379.59,73.78 L380.22,72.04 L380.92,70.35 L381.69,68.71 L382.54,67.13 L383.47,65.61 L384.48,64.17 L385.57,62.80 L386.75,61.52 L388.01,60.32 L389.36,59.23 L390.80,58.23 L392.32,57.32 L393.91,56.49 L395.56,55.74 L397.27,55.06 L399.03,54.45 L400.83,53.89 L402.67,53.38 L404.53,52.92 L406.41,52.50 L408.30,52.11 L410.20,51.74 L412.09,51.39 L413.98,51.06 L415.87,50.74 L417.74,50.44 L419.62,50.15 L421.49,49.88 L423.35,49.61 L425.21,49.36 L427.07,49.12 L428.93,48.89 L430.78,48.67 L432.63,48.46 L434.49,48.25 L436.34,48.06 L438.19,47.87 L440.04,47.68 L441.89,47.51 L443.74,47.33 L445.59,47.16 L447.44,47.00 L449.29,46.84 L451.15,46.68 L453.00,46.53 L454.86,46.38 L456.71,46.24 L458.57,46.10 L460.43,45.97 L462.29,45.84 L464.15,45.71 L466.00,45.59 L467.86,45.47 L469.72,45.35 L471.58,45.24 L473.45,45.13 L475.31,45.03 L477.17,44.93 L479.03,44.83 L480.89,44.73 L482.76,44.64 L484.62,44.55 L486.49,44.47 L488.35,44.39 L490.21,44.31 L492.08,44.23 L493.94,44.16 L495.81,44.09 L497.67,44.02 L499.54,43.96 L501.41,43.89 L503.27,43.83 L505.14,43.78 L507.00,43.72 L508.87,43.67 L510.74,43.62 L512.60,43.57 L514.47,43.52 L516.33,43.48 L518.20,43.44 L520.07,43.40 L521.93,43.36 L523.80,43.32 L525.67,43.29 L527.53,43.25 L529.40,43.22 L531.27,43.19 L533.13,43.16 L535.00,43.14 L536.87,43.11 L538.73,43.09 L540.60,43.06 L542.47,43.04 L544.33,43.02 L546.20,43.00 L548.07,42.98 L549.94,42.96 L551.80,42.95 L553.67,42.93 L555.54,42.92 L557.40,42.90 L559.27,42.89 L561.14,42.88 L563.00,42.86 L564.87,42.85 L566.74,42.84 L568.60,42.83 L570.47,42.82 L572.34,42.81 L574.21,42.79 L576.07,42.78 L577.94,42.77 L579.81,42.76 L581.67,42.75 L583.54,42.74 L585.41,42.73 L587.27,42.72 L589.14,42.71 L591.01,42.69 L592.87,42.68 L594.74,42.67 L596.61,42.66 L598.47,42.64 L600.34,42.63 L602.21,42.61 L604.07,42.59 L605.94,42.58 L607.80,42.56 L609.67,42.54 L611.54,42.52 L613.40,42.50 L615.27,42.47 L617.14,42.45 L619.00,42.42 L620.87,42.40 L622.73,42.37 L624.60,42.34 L626.46,42.31 L628.33,42.27 L630.19,42.24" fill="none" stroke="#f6a93b" stroke-width="1.6" stroke-linecap="butt" />
<path d="M375.99,295.98 L376.00,294.18 L376.02,292.37 L376.03,290.57 L376.04,288.76 L376.05,286.96 L376.06,285.15 L376.07,283.34 L376.08,281.54 L376.09,279.73 L376.10,277.92 L376.11,276.11 L376.12,274.31 L376.13,272.50 L376.14,270.69 L376.15,268.88 L376.16,267.07 L376.17,265.27 L376.18,263.46 L376.18,261.65 L376.19,259.84 L376.21,258.03 L376.22,256.22 L376.23,254.41 L376.24,252.60 L376.25,250.79 L376.27,248.98 L376.28,247.17 L376.30,245.36 L376.31,243.55 L376.33,241.74 L376.35,239.93 L376.37,238.12 L376.39,236.31 L376.41,234.50 L376.43,232.69 L376.46,230.88 L376.48,229.07 L376.51,227.26 L376.54,225.45 L376.57,223.64 L376.60,221.83 L376.63,220.02 L376.67,218.21 L376.71,216.40 L376.75,214.59 L376.79,212.78 L376.83,210.97 L376.88,209.16 L376.93,207.35 L376.98,205.54 L377.03,203.74 L377.08,201.93 L377.14,200.12 L377.20,198.31 L377.26,196.50 L377.33,194.69 L377.40,192.89 L377.47,191.08 L377.54,189.27 L377.62,187.47 L377.69,185.66 L377.78,183.85 L377.86,182.05 L377.95,180.24 L378.04,178.44 L378.14,176.63 L378.24,174.83 L378.34,173.02 L378.44,171.22 L378.55,169.41 L378.66,167.61 L378.78,165.81 L378.90,164.01 L379.03,162.20 L379.16,160.40 L379.29,158.60 L379.43,156.80 L379.57,155.00 L379.72,153.20 L379.87,151.40 L380.03,149.60 L380.20,147.81 L380.37,146.01 L380.55,144.21 L380.73,142.41 L380.92,140.62 L381.12,138.82 L381.32,137.03 L381.53,135.24 L381.75,133.44 L381.97,131.65 L382.20,129.86 L382.44,128.07 L382.69,126.28 L382.94,124.49 L383.21,122.70 L383.48,120.91 L383.76,119.13 L384.05,117.34 L384.34,115.55 L384.65,113.77 L384.97,111.99 L385.29,110.20 L385.63,108.42 L385.97,106.64 L386.33,104.86 L386.69,103.08 L387.07,101.31 L387.47,99.54 L387.88,97.77 L388.31,96.00 L388.76,94.24 L389.23,92.49 L389.72,90.74 L390.24,89.00 L390.78,87.27 L391.36,85.55 L391.96,83.83 L392.59,82.13 L393.26,80.44 L393.97,78.77 L394.71,77.12 L395.49,75.50 L396.32,73.90 L397.19,72.33 L398.11,70.79 L399.08,69.29 L400.10,67.83 L401.18,66.41 L402.31,65.03 L403.50,63.70 L404.74,62.41 L406.03,61.18 L407.37,59.99 L408.76,58.86 L410.19,57.77 L411.66,56.74 L413.16,55.76 L414.71,54.84 L416.28,53.97 L417.88,53.16 L419.51,52.40 L421.17,51.70 L422.84,51.05 L424.54,50.45 L426.25,49.89 L427.99,49.38 L429.73,48.91 L431.49,48.47 L433.26,48.07 L435.04,47.69 L436.83,47.35 L438.63,47.03 L440.42,46.72 L442.22,46.44 L444.02,46.17 L445.82,45.92 L447.62,45.68 L449.42,45.46 L451.22,45.25 L453.03,45.05 L454.83,44.87 L456.63,44.70 L458.43,44.54 L460.23,44.39 L462.04,44.25 L463.84,44.12 L465.64,44.01 L467.45,43.90 L469.25,43.80 L471.06,43.71 L472.86,43.63 L474.67,43.56 L476.47,43.49 L478.28,43.44 L480.08,43.38 L481.89,43.34 L483.70,43.30 L485.50,43.26 L487.31,43.23 L489.12,43.20 L490.92,43.18 L492.73,43.16 L494.54,43.15 L496.35,43.13 L498.15,43.12 L499.96,43.11 L501.77,43.10 L503.58,43.09 L505.39,43.08 L507.19,43.07 L509.00,43.06 L510.81,43.05 L512.62,43.04 L514.43,43.03 L516.24,43.01 L518.04,43.00 L519.85,42.98 L521.66,42.97 L523.47,42.95 L525.28,42.93 L527.09,42.91 L528.90,42.90 L530.71,42.88 L532.51,42.86 L534.32,42.84 L536.13,42.82 L537.94,42.80 L539.75,42.78 L541.56,42.76 L543.37,42.74 L545.18,42.72 L546.99,42.70 L548.80,42.68 L550.61,42.66 L552.41,42.63 L554.22,42.61 L556.03,42.59 L557.84,42.57 L559.65,42.55 L561.46,42.53 L563.27,42.51 L565.08,42.50 L566.89,42.48 L568.70,42.46 L570.51,42.44 L572.32,42.42 L574.13,42.41 L575.94,42.39 L577.74,42.38 L579.55,42.36 L581.36,42.35 L583.17,42.34 L584.98,42.32 L586.79,42.31 L588.60,42.30 L590.41,42.29 L592.22,42.29 L594.03,42.28 L595.84,42.27 L597.64,42.27 L599.45,42.27 L601.26,42.26 L603.07,42.26 L604.88,42.26 L606.69,42.27 L608.50,42.27 L610.31,42.27 L612.11,42.28 L613.92,42.29 L615.73,42.30 L617.54,42.31 L619.35,42.32 L621.16,42.34 L622.96,42.35 L624.77,42.37 L626.58,42.39 L628.39,42.42 L630.20,42.44" fill="none" stroke="#8d2a8c" stroke-width="1.6" stroke-linecap="butt" />
<rect x="375.7" y="42.30000000000001" width="254.5" height="253.7" fill="none" stroke="#111" stroke-width="1.8"/>
<line x1="370.7" y1="296.00" x2="375.7" y2="296.00" stroke="#111" stroke-width="1.6"/>
<text x="369.20" y="299.60" font-size="10.5" text-anchor="end" font-weight="normal" fill="#1a1a1a" >0.0</text>
<line x1="375.70" y1="296.0" x2="375.70" y2="301.0" stroke="#111" stroke-width="1.6"/>
<text x="375.70" y="309.60" font-size="10.5" text-anchor="middle" font-weight="normal" fill="#1a1a1a" >0.0</text>
<line x1="370.7" y1="245.26" x2="375.7" y2="245.26" stroke="#111" stroke-width="1.6"/>
<text x="369.20" y="248.86" font-size="10.5" text-anchor="end" font-weight="normal" fill="#1a1a1a" >0.2</text>
<line x1="426.60" y1="296.0" x2="426.60" y2="301.0" stroke="#111" stroke-width="1.6"/>
<text x="426.60" y="309.60" font-size="10.5" text-anchor="middle" font-weight="normal" fill="#1a1a1a" >0.2</text>
<line x1="370.7" y1="194.52" x2="375.7" y2="194.52" stroke="#111" stroke-width="1.6"/>
<text x="369.20" y="198.12" font-size="10.5" text-anchor="end" font-weight="normal" fill="#1a1a1a" >0.4</text>
<line x1="477.50" y1="296.0" x2="477.50" y2="301.0" stroke="#111" stroke-width="1.6"/>
<text x="477.50" y="309.60" font-size="10.5" text-anchor="middle" font-weight="normal" fill="#1a1a1a" >0.4</text>
<line x1="370.7" y1="143.78" x2="375.7" y2="143.78" stroke="#111" stroke-width="1.6"/>
<text x="369.20" y="147.38" font-size="10.5" text-anchor="end" font-weight="normal" fill="#1a1a1a" >0.6</text>
<line x1="528.40" y1="296.0" x2="528.40" y2="301.0" stroke="#111" stroke-width="1.6"/>
<text x="528.40" y="309.60" font-size="10.5" text-anchor="middle" font-weight="normal" fill="#1a1a1a" >0.6</text>
<line x1="370.7" y1="93.04" x2="375.7" y2="93.04" stroke="#111" stroke-width="1.6"/>
<text x="369.20" y="96.64" font-size="10.5" text-anchor="end" font-weight="normal" fill="#1a1a1a" >0.8</text>
<line x1="579.30" y1="296.0" x2="579.30" y2="301.0" stroke="#111" stroke-width="1.6"/>
<text x="579.30" y="309.60" font-size="10.5" text-anchor="middle" font-weight="normal" fill="#1a1a1a" >0.8</text>
<line x1="370.7" y1="42.30" x2="375.7" y2="42.30" stroke="#111" stroke-width="1.6"/>
<text x="369.20" y="45.90" font-size="10.5" text-anchor="end" font-weight="normal" fill="#1a1a1a" >1.0</text>
<line x1="630.20" y1="296.0" x2="630.20" y2="301.0" stroke="#111" stroke-width="1.6"/>
<text x="630.20" y="309.60" font-size="10.5" text-anchor="middle" font-weight="normal" fill="#1a1a1a" >1.0</text>
<text x="502.95" y="333.30" font-size="16.8" text-anchor="middle" font-weight="normal" fill="#1a1a1a" >1-Specificity</text>
<text x="0" y="0" font-size="17.6" text-anchor="middle" fill="#1a1a1a" transform="translate(342.6,165.4) rotate(-90)">Sensitivity</text>
<line x1="503.2" y1="228.90" x2="527.2" y2="228.90" stroke="#f57fb8" stroke-width="1.5"/>
<text x="531.40" y="231.90" font-size="9.1" text-anchor="start" font-weight="normal" fill="#333" >Fold 1 (AUC=0.961)</text>
<line x1="503.2" y1="237.80" x2="527.2" y2="237.80" stroke="#86c440" stroke-width="1.5"/>
<text x="531.40" y="240.80" font-size="9.1" text-anchor="start" font-weight="normal" fill="#333" >Fold 2 (AUC=0.991)</text>
<line x1="503.2" y1="246.70" x2="527.2" y2="246.70" stroke="#f6a93b" stroke-width="1.5"/>
<text x="531.40" y="249.70" font-size="9.1" text-anchor="start" font-weight="normal" fill="#333" >Fold 3 (AUC=0.985)</text>
<line x1="503.2" y1="255.60" x2="527.2" y2="255.60" stroke="#35a9e1" stroke-width="1.5"/>
<text x="531.40" y="258.60" font-size="9.1" text-anchor="start" font-weight="normal" fill="#333" >Fold 4 (AUC=0.966)</text>
<line x1="503.2" y1="264.50" x2="527.2" y2="264.50" stroke="#8d2a8c" stroke-width="1.5"/>
<text x="531.40" y="267.50" font-size="9.1" text-anchor="start" font-weight="normal" fill="#333" >Fold 5 (AUC=0.975)</text>
<text transform="translate(1.8,646.3) scale(0.95,1)" font-size="23.3" fill="#1a1a1a">E</text>
<text x="178.00" y="653.60" font-size="18" text-anchor="middle" font-weight="normal" fill="#1a1a1a" >t-FL test cohort</text>
<rect x="47.2" y="664.9000000000001" width="253.8" height="253.8" fill="#fff5ea"/>
<line x1="301.0" y1="664.9000000000001" x2="47.2" y2="918.7" stroke="#7c7c7c" stroke-width="1.05" stroke-dasharray="4.1,3.8" stroke-dashoffset="5.7"/>
<path d="M47.37,918.48 L47.45,916.98 L47.54,915.49 L47.64,914.00 L47.76,912.51 L47.89,911.03 L48.03,909.54 L48.19,908.06 L48.35,906.58 L48.53,905.10 L48.72,903.62 L48.92,902.14 L49.13,900.67 L49.35,899.19 L49.59,897.72 L49.83,896.25 L50.09,894.79 L50.36,893.32 L50.64,891.86 L50.93,890.40 L51.23,888.94 L51.54,887.48 L51.86,886.03 L52.20,884.58 L52.54,883.13 L52.89,881.68 L53.25,880.24 L53.62,878.79 L54.01,877.35 L54.40,875.91 L54.80,874.48 L55.21,873.04 L55.63,871.61 L56.06,870.18 L56.50,868.76 L56.95,867.33 L57.40,865.91 L57.87,864.49 L58.34,863.08 L58.83,861.66 L59.32,860.25 L59.82,858.84 L60.33,857.44 L60.84,856.04 L61.37,854.63 L61.90,853.24 L62.44,851.84 L62.99,850.45 L63.54,849.06 L64.11,847.68 L64.68,846.29 L65.26,844.91 L65.84,843.54 L66.43,842.16 L67.03,840.79 L67.64,839.42 L68.25,838.06 L68.87,836.69 L69.50,835.34 L70.13,833.98 L70.77,832.63 L71.41,831.28 L72.07,829.93 L72.72,828.59 L73.39,827.25 L74.06,825.91 L74.73,824.58 L75.41,823.25 L76.10,821.92 L76.79,820.60 L77.49,819.28 L78.19,817.97 L78.90,816.65 L79.61,815.34 L80.33,814.04 L81.05,812.73 L81.78,811.44 L82.52,810.14 L83.26,808.85 L84.00,807.56 L84.76,806.27 L85.51,804.99 L86.28,803.71 L87.04,802.44 L87.82,801.17 L88.60,799.90 L89.39,798.63 L90.18,797.37 L90.97,796.11 L91.78,794.86 L92.59,793.61 L93.40,792.36 L94.22,791.12 L95.05,789.88 L95.89,788.65 L96.73,787.42 L97.58,786.19 L98.43,784.97 L99.29,783.76 L100.16,782.55 L101.04,781.34 L101.92,780.14 L102.81,778.95 L103.71,777.76 L104.61,776.58 L105.53,775.40 L106.45,774.23 L107.37,773.06 L108.31,771.90 L109.25,770.74 L110.20,769.59 L111.15,768.44 L112.11,767.30 L113.08,766.17 L114.05,765.04 L115.04,763.91 L116.02,762.79 L117.02,761.68 L118.02,760.57 L119.02,759.47 L120.04,758.37 L121.06,757.27 L122.08,756.18 L123.11,755.10 L124.15,754.02 L125.19,752.95 L126.24,751.88 L127.29,750.82 L128.35,749.77 L129.42,748.72 L130.49,747.67 L131.57,746.63 L132.65,745.60 L133.74,744.58 L134.83,743.55 L135.93,742.54 L137.03,741.53 L138.14,740.53 L139.25,739.53 L140.37,738.54 L141.49,737.55 L142.62,736.58 L143.75,735.60 L144.89,734.64 L146.03,733.67 L147.18,732.72 L148.33,731.77 L149.49,730.83 L150.65,729.89 L151.82,728.96 L152.99,728.04 L154.16,727.12 L155.34,726.21 L156.53,725.30 L157.72,724.40 L158.91,723.50 L160.11,722.62 L161.31,721.73 L162.52,720.86 L163.73,719.99 L164.95,719.13 L166.17,718.27 L167.39,717.42 L168.62,716.57 L169.85,715.73 L171.09,714.90 L172.33,714.08 L173.58,713.25 L174.83,712.44 L176.08,711.63 L177.34,710.83 L178.60,710.04 L179.86,709.25 L181.13,708.46 L182.41,707.69 L183.68,706.92 L184.96,706.15 L186.25,705.40 L187.54,704.64 L188.83,703.90 L190.12,703.16 L191.42,702.43 L192.72,701.70 L194.03,700.98 L195.34,700.27 L196.65,699.56 L197.97,698.86 L199.29,698.16 L200.61,697.47 L201.94,696.79 L203.27,696.12 L204.61,695.45 L205.94,694.78 L207.28,694.13 L208.63,693.48 L209.97,692.83 L211.32,692.20 L212.67,691.56 L214.03,690.94 L215.39,690.32 L216.75,689.71 L218.12,689.10 L219.48,688.51 L220.85,687.91 L222.23,687.33 L223.60,686.75 L224.98,686.17 L226.36,685.61 L227.75,685.05 L229.14,684.49 L230.53,683.95 L231.92,683.41 L233.31,682.87 L234.71,682.34 L236.11,681.82 L237.51,681.31 L238.92,680.80 L240.33,680.29 L241.73,679.80 L243.15,679.31 L244.56,678.83 L245.98,678.35 L247.39,677.88 L248.81,677.41 L250.24,676.96 L251.66,676.50 L253.09,676.06 L254.52,675.62 L255.95,675.19 L257.38,674.76 L258.81,674.34 L260.25,673.93 L261.68,673.52 L263.12,673.12 L264.56,672.73 L266.01,672.34 L267.45,671.96 L268.90,671.58 L270.34,671.21 L271.79,670.85 L273.24,670.49 L274.69,670.14 L276.14,669.80 L277.60,669.46 L279.05,669.13 L280.51,668.80 L281.96,668.49 L283.42,668.17 L284.88,667.87 L286.34,667.57 L287.80,667.27 L289.27,666.99 L290.73,666.71 L292.19,666.43 L293.66,666.16 L295.12,665.90 L296.59,665.64 L298.06,665.39 L299.53,665.15 L300.99,664.91" fill="none" stroke="#6a5a4a" stroke-width="4.5" stroke-linecap="butt" opacity="0.22" filter="url(#blur)" transform="translate(-1.2,-1.8)"/>
<path d="M301.31,665.22 L300.13,666.02 L298.94,666.82 L297.75,667.62 L296.56,668.42 L295.37,669.21 L294.17,670.00 L292.98,670.79 L291.78,671.57 L290.58,672.36 L289.38,673.14 L288.18,673.91 L286.97,674.69 L285.77,675.46 L284.56,676.23 L283.36,677.00 L282.15,677.77 L280.94,678.53 L279.72,679.30 L278.51,680.06 L277.30,680.82 L276.08,681.58 L274.87,682.33 L273.65,683.09 L272.43,683.84 L271.22,684.59 L270.00,685.34 L268.78,686.09 L267.56,686.84 L266.34,687.59 L265.11,688.34 L263.89,689.08 L262.67,689.83 L261.44,690.57 L260.22,691.31 L259.00,692.06 L257.77,692.80 L256.55,693.54 L255.32,694.28 L254.10,695.03 L252.87,695.77 L251.64,696.51 L250.42,697.25 L249.19,697.99 L247.97,698.73 L246.74,699.47 L245.52,700.21 L244.29,700.96 L243.07,701.70 L241.84,702.44 L240.62,703.19 L239.39,703.93 L238.17,704.67 L236.94,705.42 L235.72,706.17 L234.50,706.91 L233.28,707.66 L232.05,708.41 L230.83,709.16 L229.61,709.91 L228.39,710.67 L227.18,711.42 L225.96,712.18 L224.74,712.94 L223.53,713.70 L222.31,714.46 L221.10,715.22 L219.89,715.98 L218.67,716.75 L217.46,717.52 L216.25,718.29 L215.05,719.06 L213.84,719.83 L212.63,720.61 L211.43,721.39 L210.22,722.17 L209.02,722.95 L207.82,723.73 L206.62,724.52 L205.42,725.30 L204.23,726.09 L203.03,726.88 L201.84,727.68 L200.64,728.47 L199.45,729.27 L198.26,730.07 L197.07,730.87 L195.88,731.67 L194.69,732.48 L193.51,733.28 L192.33,734.09 L191.14,734.90 L189.96,735.72 L188.78,736.53 L187.60,737.35 L186.43,738.17 L185.25,738.99 L184.08,739.82 L182.91,740.64 L181.74,741.47 L180.57,742.30 L179.40,743.13 L178.24,743.97 L177.07,744.80 L175.91,745.64 L174.75,746.48 L173.59,747.33 L172.43,748.17 L171.28,749.02 L170.12,749.87 L168.97,750.72 L167.82,751.57 L166.67,752.43 L165.52,753.29 L164.38,754.15 L163.24,755.02 L162.09,755.88 L160.95,756.75 L159.82,757.62 L158.68,758.49 L157.55,759.37 L156.41,760.24 L155.28,761.12 L154.16,762.01 L153.03,762.89 L151.90,763.78 L150.78,764.67 L149.66,765.56 L148.54,766.45 L147.43,767.35 L146.31,768.25 L145.20,769.15 L144.09,770.06 L142.98,770.96 L141.88,771.87 L140.77,772.78 L139.67,773.70 L138.57,774.62 L137.48,775.54 L136.38,776.46 L135.29,777.39 L134.20,778.32 L133.12,779.25 L132.04,780.19 L130.96,781.13 L129.88,782.07 L128.81,783.02 L127.74,783.97 L126.67,784.92 L125.61,785.88 L124.55,786.84 L123.49,787.80 L122.44,788.77 L121.39,789.75 L120.34,790.72 L119.30,791.70 L118.26,792.68 L117.22,793.67 L116.19,794.66 L115.16,795.66 L114.14,796.66 L113.12,797.67 L112.10,798.68 L111.09,799.69 L110.08,800.71 L109.08,801.73 L108.08,802.76 L107.08,803.79 L106.09,804.82 L105.11,805.86 L104.12,806.91 L103.15,807.96 L102.17,809.02 L101.21,810.07 L100.24,811.14 L99.29,812.21 L98.33,813.28 L97.39,814.36 L96.44,815.44 L95.51,816.53 L94.58,817.62 L93.65,818.72 L92.73,819.82 L91.81,820.92 L90.90,822.03 L90.00,823.15 L89.10,824.27 L88.21,825.39 L87.32,826.52 L86.44,827.65 L85.57,828.79 L84.70,829.94 L83.84,831.08 L82.98,832.24 L82.13,833.39 L81.29,834.55 L80.46,835.72 L79.63,836.89 L78.80,838.07 L77.99,839.25 L77.18,840.43 L76.38,841.62 L75.58,842.81 L74.80,844.01 L74.02,845.22 L73.25,846.42 L72.48,847.64 L71.73,848.85 L70.98,850.08 L70.24,851.30 L69.51,852.53 L68.79,853.77 L68.08,855.01 L67.38,856.26 L66.68,857.51 L66.00,858.76 L65.33,860.02 L64.66,861.29 L64.01,862.56 L63.36,863.83 L62.73,865.11 L62.11,866.39 L61.49,867.68 L60.89,868.97 L60.30,870.27 L59.72,871.57 L59.15,872.88 L58.59,874.19 L58.05,875.51 L57.51,876.83 L56.99,878.15 L56.48,879.48 L55.98,880.82 L55.50,882.16 L55.02,883.50 L54.56,884.85 L54.12,886.20 L53.68,887.56 L53.26,888.92 L52.86,890.29 L52.46,891.66 L52.08,893.04 L51.72,894.42 L51.37,895.81 L51.03,897.20 L50.71,898.59 L50.40,899.99 L50.11,901.40 L49.83,902.81 L49.57,904.22 L49.32,905.64 L49.09,907.06 L48.87,908.49 L48.67,909.92 L48.49,911.35 L48.32,912.80 L48.16,914.24 L48.03,915.69 L47.91,917.14 L47.81,918.60" fill="none" stroke="#f6a93b" stroke-width="1.5" stroke-linecap="butt" stroke-dasharray="9.5,8" stroke-dashoffset="2"/>
<path d="M301.12,665.01 L299.71,665.41 L298.30,665.81 L296.90,666.22 L295.49,666.63 L294.09,667.04 L292.69,667.47 L291.29,667.90 L289.90,668.33 L288.51,668.77 L287.11,669.21 L285.73,669.66 L284.34,670.12 L282.95,670.58 L281.57,671.05 L280.19,671.52 L278.81,672.00 L277.44,672.48 L276.06,672.97 L274.69,673.46 L273.32,673.96 L271.96,674.47 L270.59,674.98 L269.23,675.49 L267.87,676.01 L266.51,676.54 L265.16,677.07 L263.80,677.61 L262.45,678.15 L261.10,678.69 L259.76,679.25 L258.41,679.80 L257.07,680.37 L255.73,680.93 L254.40,681.51 L253.06,682.09 L251.73,682.67 L250.40,683.26 L249.07,683.85 L247.75,684.45 L246.43,685.05 L245.11,685.66 L243.79,686.28 L242.47,686.89 L241.16,687.52 L239.85,688.15 L238.54,688.78 L237.24,689.42 L235.94,690.06 L234.64,690.71 L233.34,691.37 L232.04,692.02 L230.75,692.69 L229.46,693.36 L228.18,694.03 L226.89,694.71 L225.61,695.39 L224.33,696.08 L223.05,696.77 L221.78,697.47 L220.51,698.17 L219.24,698.88 L217.97,699.59 L216.71,700.31 L215.45,701.03 L214.19,701.76 L212.94,702.49 L211.69,703.22 L210.44,703.96 L209.19,704.71 L207.95,705.46 L206.70,706.21 L205.47,706.97 L204.23,707.73 L203.00,708.50 L201.77,709.28 L200.54,710.05 L199.32,710.83 L198.09,711.62 L196.88,712.41 L195.66,713.21 L194.45,714.01 L193.24,714.81 L192.03,715.62 L190.82,716.44 L189.62,717.25 L188.42,718.08 L187.23,718.90 L186.04,719.73 L184.85,720.57 L183.66,721.41 L182.48,722.25 L181.30,723.10 L180.12,723.96 L178.94,724.81 L177.77,725.67 L176.60,726.54 L175.44,727.41 L174.28,728.29 L173.12,729.16 L171.96,730.05 L170.81,730.93 L169.66,731.83 L168.51,732.72 L167.37,733.62 L166.22,734.53 L165.09,735.43 L163.95,736.35 L162.82,737.26 L161.69,738.18 L160.57,739.11 L159.45,740.04 L158.33,740.97 L157.21,741.91 L156.10,742.85 L154.99,743.79 L153.89,744.74 L152.78,745.70 L151.68,746.65 L150.59,747.61 L149.50,748.58 L148.41,749.55 L147.32,750.52 L146.24,751.50 L145.16,752.48 L144.08,753.46 L143.01,754.45 L141.94,755.44 L140.87,756.44 L139.81,757.44 L138.75,758.44 L137.70,759.45 L136.64,760.46 L135.59,761.48 L134.55,762.50 L133.51,763.52 L132.47,764.54 L131.43,765.57 L130.40,766.61 L129.38,767.65 L128.35,768.69 L127.33,769.73 L126.31,770.78 L125.30,771.83 L124.29,772.89 L123.29,773.95 L122.29,775.02 L121.29,776.08 L120.30,777.15 L119.31,778.23 L118.33,779.31 L117.35,780.39 L116.37,781.48 L115.40,782.57 L114.43,783.66 L113.47,784.76 L112.51,785.86 L111.56,786.96 L110.61,788.07 L109.67,789.18 L108.73,790.30 L107.79,791.42 L106.86,792.54 L105.94,793.67 L105.02,794.80 L104.10,795.93 L103.19,797.07 L102.28,798.21 L101.38,799.36 L100.49,800.51 L99.60,801.66 L98.71,802.82 L97.83,803.98 L96.96,805.14 L96.09,806.31 L95.22,807.48 L94.37,808.65 L93.51,809.83 L92.66,811.01 L91.82,812.20 L90.99,813.39 L90.16,814.58 L89.33,815.78 L88.51,816.98 L87.70,818.18 L86.89,819.39 L86.09,820.60 L85.29,821.81 L84.50,823.03 L83.72,824.25 L82.94,825.48 L82.17,826.71 L81.40,827.94 L80.64,829.17 L79.89,830.41 L79.14,831.66 L78.40,832.90 L77.67,834.16 L76.94,835.41 L76.22,836.67 L75.51,837.93 L74.80,839.19 L74.10,840.46 L73.40,841.73 L72.72,843.01 L72.04,844.29 L71.36,845.57 L70.70,846.86 L70.04,848.15 L69.38,849.44 L68.74,850.74 L68.10,852.04 L67.47,853.34 L66.85,854.65 L66.23,855.96 L65.63,857.28 L65.03,858.59 L64.43,859.92 L63.85,861.24 L63.27,862.57 L62.70,863.90 L62.14,865.24 L61.59,866.58 L61.05,867.92 L60.51,869.27 L59.98,870.62 L59.46,871.97 L58.95,873.33 L58.45,874.69 L57.96,876.06 L57.47,877.42 L57.00,878.80 L56.53,880.17 L56.07,881.55 L55.62,882.93 L55.18,884.32 L54.75,885.71 L54.33,887.10 L53.92,888.50 L53.51,889.90 L53.12,891.30 L52.73,892.71 L52.36,894.12 L51.99,895.53 L51.64,896.95 L51.29,898.37 L50.95,899.79 L50.63,901.22 L50.31,902.65 L50.00,904.09 L49.71,905.53 L49.42,906.97 L49.15,908.41 L48.88,909.86 L48.63,911.31 L48.38,912.77 L48.15,914.23 L47.92,915.69 L47.71,917.16 L47.51,918.63" fill="none" stroke="#86c440" stroke-width="1.5" stroke-linecap="butt" stroke-dasharray="9.5,8" stroke-dashoffset="2"/>
<path d="M301.11,665.05 L299.75,665.58 L298.39,666.11 L297.04,666.64 L295.68,667.17 L294.32,667.69 L292.96,668.22 L291.59,668.74 L290.23,669.26 L288.87,669.78 L287.51,670.30 L286.14,670.82 L284.78,671.34 L283.42,671.86 L282.05,672.38 L280.69,672.90 L279.33,673.43 L277.97,673.95 L276.61,674.48 L275.25,675.01 L273.89,675.54 L272.53,676.07 L271.17,676.61 L269.82,677.14 L268.47,677.69 L267.12,678.23 L265.77,678.78 L264.42,679.34 L263.07,679.90 L261.73,680.46 L260.39,681.03 L259.05,681.60 L257.72,682.18 L256.38,682.77 L255.05,683.36 L253.73,683.96 L252.40,684.56 L251.08,685.17 L249.76,685.79 L248.45,686.41 L247.14,687.04 L245.83,687.67 L244.52,688.31 L243.22,688.95 L241.91,689.60 L240.61,690.26 L239.32,690.92 L238.02,691.58 L236.73,692.25 L235.44,692.92 L234.15,693.60 L232.87,694.28 L231.58,694.97 L230.30,695.66 L229.02,696.36 L227.74,697.06 L226.47,697.76 L225.19,698.47 L223.92,699.18 L222.65,699.89 L221.38,700.61 L220.12,701.33 L218.85,702.05 L217.59,702.78 L216.32,703.51 L215.06,704.24 L213.80,704.97 L212.55,705.71 L211.29,706.45 L210.03,707.19 L208.78,707.94 L207.53,708.69 L206.28,709.44 L205.03,710.19 L203.78,710.95 L202.54,711.71 L201.29,712.47 L200.05,713.24 L198.81,714.01 L197.57,714.78 L196.34,715.55 L195.10,716.33 L193.87,717.11 L192.64,717.89 L191.41,718.68 L190.18,719.47 L188.96,720.27 L187.74,721.06 L186.52,721.86 L185.30,722.67 L184.08,723.47 L182.87,724.28 L181.66,725.10 L180.45,725.91 L179.25,726.73 L178.04,727.56 L176.84,728.38 L175.64,729.21 L174.45,730.05 L173.25,730.88 L172.06,731.73 L170.87,732.57 L169.69,733.42 L168.50,734.27 L167.32,735.13 L166.15,735.99 L164.97,736.85 L163.80,737.72 L162.63,738.59 L161.47,739.46 L160.30,740.34 L159.14,741.22 L157.99,742.11 L156.83,743.00 L155.68,743.89 L154.53,744.79 L153.39,745.69 L152.25,746.60 L151.11,747.51 L149.98,748.43 L148.84,749.34 L147.72,750.27 L146.59,751.19 L145.47,752.12 L144.35,753.06 L143.24,754.00 L142.13,754.94 L141.02,755.89 L139.92,756.84 L138.82,757.80 L137.72,758.76 L136.63,759.73 L135.54,760.70 L134.46,761.67 L133.38,762.65 L132.30,763.64 L131.23,764.62 L130.16,765.62 L129.09,766.61 L128.03,767.61 L126.98,768.62 L125.92,769.63 L124.87,770.65 L123.83,771.67 L122.79,772.69 L121.75,773.72 L120.72,774.75 L119.70,775.79 L118.67,776.83 L117.66,777.87 L116.64,778.92 L115.64,779.98 L114.63,781.04 L113.63,782.10 L112.64,783.17 L111.65,784.24 L110.67,785.32 L109.69,786.40 L108.71,787.49 L107.74,788.58 L106.78,789.67 L105.82,790.77 L104.86,791.87 L103.92,792.98 L102.97,794.09 L102.03,795.21 L101.10,796.33 L100.17,797.45 L99.25,798.58 L98.33,799.72 L97.42,800.85 L96.52,802.00 L95.62,803.14 L94.72,804.29 L93.84,805.45 L92.95,806.61 L92.08,807.77 L91.20,808.94 L90.34,810.11 L89.48,811.29 L88.63,812.47 L87.78,813.66 L86.94,814.85 L86.10,816.04 L85.27,817.24 L84.45,818.44 L83.64,819.65 L82.83,820.86 L82.02,822.08 L81.23,823.30 L80.44,824.52 L79.65,825.75 L78.87,826.98 L78.10,828.22 L77.34,829.46 L76.58,830.71 L75.83,831.96 L75.09,833.21 L74.35,834.47 L73.62,835.73 L72.90,837.00 L72.18,838.27 L71.47,839.54 L70.77,840.82 L70.08,842.11 L69.39,843.40 L68.71,844.69 L68.04,845.98 L67.38,847.29 L66.72,848.59 L66.08,849.90 L65.44,851.21 L64.82,852.53 L64.20,853.85 L63.60,855.18 L63.00,856.51 L62.42,857.84 L61.84,859.18 L61.28,860.53 L60.73,861.87 L60.18,863.22 L59.65,864.58 L59.14,865.94 L58.63,867.30 L58.14,868.67 L57.66,870.05 L57.19,871.42 L56.73,872.80 L56.29,874.19 L55.87,875.58 L55.45,876.97 L55.05,878.37 L54.66,879.77 L54.29,881.18 L53.93,882.59 L53.58,884.00 L53.24,885.42 L52.91,886.84 L52.60,888.26 L52.29,889.68 L52.00,891.11 L51.71,892.54 L51.43,893.97 L51.17,895.41 L50.91,896.85 L50.66,898.29 L50.41,899.73 L50.18,901.17 L49.95,902.61 L49.73,904.06 L49.51,905.50 L49.30,906.95 L49.10,908.40 L48.90,909.85 L48.70,911.30 L48.51,912.75 L48.32,914.20 L48.14,915.65 L47.96,917.09 L47.78,918.54" fill="none" stroke="#8d2a8c" stroke-width="1.5" stroke-linecap="butt" stroke-dasharray="9.5,8" stroke-dashoffset="2"/>
<path d="M300.92,664.73 L299.49,665.09 L298.07,665.45 L296.65,665.82 L295.23,666.20 L293.81,666.58 L292.39,666.97 L290.98,667.36 L289.56,667.76 L288.15,668.16 L286.74,668.57 L285.33,668.98 L283.92,669.40 L282.52,669.83 L281.11,670.26 L279.71,670.70 L278.31,671.14 L276.91,671.58 L275.51,672.04 L274.12,672.50 L272.72,672.96 L271.33,673.43 L269.94,673.90 L268.55,674.38 L267.17,674.87 L265.78,675.36 L264.40,675.85 L263.02,676.35 L261.64,676.86 L260.26,677.37 L258.89,677.89 L257.51,678.41 L256.14,678.94 L254.77,679.47 L253.41,680.01 L252.04,680.55 L250.68,681.10 L249.32,681.66 L247.96,682.22 L246.61,682.78 L245.25,683.35 L243.90,683.92 L242.55,684.50 L241.20,685.09 L239.86,685.68 L238.51,686.28 L237.17,686.88 L235.83,687.48 L234.50,688.09 L233.16,688.71 L231.83,689.33 L230.50,689.96 L229.18,690.59 L227.85,691.23 L226.53,691.87 L225.21,692.52 L223.89,693.17 L222.58,693.83 L221.27,694.49 L219.96,695.16 L218.65,695.83 L217.35,696.51 L216.04,697.19 L214.74,697.88 L213.45,698.57 L212.15,699.27 L210.86,699.97 L209.57,700.68 L208.29,701.39 L207.00,702.11 L205.72,702.83 L204.44,703.56 L203.17,704.29 L201.90,705.03 L200.63,705.77 L199.36,706.52 L198.10,707.27 L196.84,708.03 L195.58,708.79 L194.32,709.55 L193.07,710.33 L191.82,711.10 L190.57,711.88 L189.33,712.67 L188.09,713.46 L186.85,714.26 L185.62,715.06 L184.39,715.86 L183.16,716.67 L181.93,717.49 L180.71,718.31 L179.49,719.13 L178.28,719.96 L177.06,720.80 L175.85,721.64 L174.65,722.48 L173.44,723.33 L172.24,724.18 L171.05,725.04 L169.85,725.90 L168.66,726.77 L167.48,727.64 L166.29,728.52 L165.11,729.40 L163.94,730.28 L162.76,731.17 L161.59,732.07 L160.43,732.97 L159.26,733.87 L158.10,734.78 L156.95,735.70 L155.79,736.61 L154.65,737.54 L153.50,738.46 L152.36,739.40 L151.22,740.33 L150.08,741.27 L148.95,742.22 L147.82,743.17 L146.70,744.12 L145.58,745.08 L144.46,746.05 L143.35,747.02 L142.24,747.99 L141.14,748.97 L140.03,749.95 L138.94,750.93 L137.84,751.92 L136.75,752.92 L135.66,753.92 L134.58,754.92 L133.50,755.93 L132.43,756.94 L131.36,757.96 L130.29,758.98 L129.23,760.01 L128.17,761.04 L127.11,762.07 L126.06,763.11 L125.02,764.15 L123.97,765.20 L122.94,766.25 L121.90,767.31 L120.88,768.37 L119.85,769.44 L118.83,770.50 L117.82,771.58 L116.81,772.66 L115.80,773.74 L114.80,774.83 L113.81,775.92 L112.82,777.01 L111.83,778.11 L110.85,779.21 L109.88,780.32 L108.91,781.43 L107.95,782.55 L106.99,783.67 L106.03,784.79 L105.08,785.92 L104.14,787.06 L103.20,788.19 L102.27,789.34 L101.35,790.48 L100.43,791.63 L99.51,792.78 L98.60,793.94 L97.70,795.11 L96.80,796.27 L95.91,797.44 L95.03,798.62 L94.15,799.80 L93.28,800.98 L92.41,802.17 L91.55,803.36 L90.70,804.55 L89.85,805.75 L89.01,806.95 L88.18,808.16 L87.35,809.37 L86.53,810.59 L85.71,811.81 L84.91,813.03 L84.11,814.26 L83.31,815.49 L82.53,816.73 L81.75,817.97 L80.97,819.21 L80.21,820.46 L79.45,821.71 L78.70,822.97 L77.95,824.23 L77.22,825.49 L76.49,826.76 L75.76,828.03 L75.05,829.30 L74.34,830.58 L73.64,831.87 L72.95,833.16 L72.27,834.45 L71.59,835.74 L70.92,837.04 L70.26,838.34 L69.61,839.65 L68.97,840.96 L68.33,842.28 L67.70,843.59 L67.08,844.92 L66.47,846.24 L65.87,847.57 L65.27,848.91 L64.68,850.24 L64.10,851.59 L63.53,852.93 L62.97,854.28 L62.42,855.63 L61.88,856.99 L61.34,858.35 L60.81,859.71 L60.30,861.08 L59.79,862.45 L59.29,863.83 L58.80,865.21 L58.32,866.59 L57.84,867.98 L57.38,869.37 L56.93,870.76 L56.48,872.16 L56.05,873.56 L55.62,874.97 L55.20,876.38 L54.80,877.79 L54.40,879.21 L54.01,880.63 L53.63,882.05 L53.27,883.48 L52.91,884.91 L52.56,886.34 L52.22,887.78 L51.89,889.22 L51.57,890.67 L51.26,892.12 L50.97,893.57 L50.68,895.03 L50.40,896.49 L50.13,897.95 L49.88,899.42 L49.63,900.89 L49.39,902.36 L49.17,903.84 L48.95,905.32 L48.75,906.81 L48.56,908.30 L48.37,909.79 L48.20,911.28 L48.04,912.78 L47.89,914.28 L47.75,915.79 L47.62,917.30 L47.51,918.81" fill="none" stroke="#f57fb8" stroke-width="1.5" stroke-linecap="butt" stroke-dasharray="9.5,8" stroke-dashoffset="2"/>
<path d="M300.92,664.82 L299.45,665.10 L297.99,665.39 L296.52,665.69 L295.06,665.99 L293.59,666.30 L292.13,666.61 L290.67,666.93 L289.21,667.25 L287.75,667.58 L286.29,667.92 L284.84,668.26 L283.38,668.60 L281.93,668.96 L280.47,669.32 L279.02,669.68 L277.57,670.05 L276.12,670.43 L274.67,670.81 L273.23,671.20 L271.78,671.59 L270.34,671.99 L268.90,672.39 L267.46,672.80 L266.02,673.21 L264.58,673.63 L263.14,674.06 L261.71,674.49 L260.27,674.93 L258.84,675.37 L257.41,675.82 L255.98,676.27 L254.55,676.73 L253.12,677.19 L251.70,677.66 L250.27,678.14 L248.85,678.62 L247.43,679.10 L246.01,679.59 L244.59,680.09 L243.18,680.59 L241.76,681.09 L240.35,681.61 L238.94,682.12 L237.53,682.64 L236.12,683.17 L234.72,683.70 L233.31,684.24 L231.91,684.78 L230.51,685.33 L229.11,685.88 L227.71,686.43 L226.32,687.00 L224.92,687.56 L223.53,688.13 L222.14,688.71 L220.75,689.29 L219.36,689.88 L217.98,690.47 L216.59,691.07 L215.21,691.67 L213.83,692.27 L212.46,692.88 L211.08,693.50 L209.71,694.12 L208.34,694.74 L206.97,695.37 L205.60,696.01 L204.23,696.65 L202.87,697.29 L201.51,697.94 L200.15,698.60 L198.80,699.26 L197.45,699.92 L196.10,700.60 L194.75,701.27 L193.41,701.95 L192.06,702.64 L190.72,703.33 L189.39,704.03 L188.06,704.73 L186.73,705.44 L185.40,706.15 L184.07,706.87 L182.75,707.59 L181.44,708.32 L180.12,709.06 L178.81,709.80 L177.51,710.55 L176.20,711.30 L174.90,712.05 L173.61,712.82 L172.31,713.59 L171.02,714.36 L169.74,715.14 L168.46,715.93 L167.18,716.72 L165.91,717.52 L164.64,718.32 L163.37,719.13 L162.11,719.95 L160.85,720.77 L159.60,721.60 L158.35,722.43 L157.11,723.27 L155.87,724.12 L154.63,724.97 L153.40,725.83 L152.18,726.70 L150.95,727.57 L149.74,728.44 L148.53,729.33 L147.32,730.22 L146.12,731.11 L144.92,732.02 L143.73,732.93 L142.54,733.84 L141.36,734.76 L140.18,735.69 L139.01,736.63 L137.85,737.57 L136.69,738.52 L135.53,739.47 L134.38,740.43 L133.24,741.40 L132.10,742.38 L130.97,743.36 L129.84,744.35 L128.72,745.34 L127.60,746.34 L126.49,747.35 L125.39,748.37 L124.29,749.39 L123.20,750.42 L122.11,751.46 L121.03,752.50 L119.96,753.55 L118.89,754.60 L117.83,755.67 L116.78,756.74 L115.73,757.81 L114.69,758.89 L113.65,759.98 L112.62,761.07 L111.60,762.17 L110.59,763.28 L109.58,764.39 L108.57,765.51 L107.58,766.64 L106.59,767.77 L105.60,768.90 L104.63,770.04 L103.66,771.19 L102.69,772.35 L101.74,773.51 L100.79,774.67 L99.85,775.84 L98.91,777.02 L97.99,778.20 L97.06,779.39 L96.15,780.58 L95.24,781.78 L94.34,782.99 L93.45,784.20 L92.57,785.41 L91.69,786.63 L90.82,787.86 L89.96,789.09 L89.10,790.33 L88.25,791.57 L87.41,792.81 L86.58,794.06 L85.75,795.32 L84.94,796.58 L84.13,797.85 L83.32,799.12 L82.53,800.39 L81.74,801.68 L80.96,802.96 L80.19,804.25 L79.43,805.54 L78.68,806.84 L77.93,808.15 L77.19,809.46 L76.46,810.77 L75.74,812.08 L75.02,813.41 L74.31,814.73 L73.62,816.06 L72.93,817.40 L72.24,818.73 L71.57,820.08 L70.91,821.42 L70.25,822.77 L69.60,824.13 L68.96,825.49 L68.33,826.85 L67.71,828.21 L67.09,829.58 L66.49,830.96 L65.89,832.34 L65.31,833.72 L64.73,835.10 L64.16,836.49 L63.60,837.88 L63.04,839.28 L62.50,840.68 L61.97,842.08 L61.44,843.49 L60.93,844.90 L60.42,846.31 L59.92,847.72 L59.43,849.14 L58.95,850.57 L58.48,851.99 L58.02,853.42 L57.57,854.85 L57.13,856.28 L56.70,857.72 L56.28,859.16 L55.86,860.61 L55.46,862.05 L55.07,863.50 L54.68,864.95 L54.31,866.41 L53.94,867.86 L53.59,869.32 L53.24,870.78 L52.90,872.25 L52.58,873.71 L52.26,875.18 L51.96,876.66 L51.66,878.13 L51.38,879.61 L51.10,881.08 L50.84,882.56 L50.58,884.05 L50.33,885.53 L50.10,887.02 L49.88,888.51 L49.66,890.00 L49.46,891.49 L49.26,892.99 L49.08,894.48 L48.91,895.98 L48.75,897.48 L48.60,898.98 L48.46,900.49 L48.33,901.99 L48.21,903.50 L48.10,905.01 L48.00,906.52 L47.91,908.03 L47.84,909.54 L47.77,911.05 L47.72,912.57 L47.67,914.08 L47.64,915.60 L47.62,917.12 L47.61,918.64" fill="none" stroke="#35a9e1" stroke-width="1.5" stroke-linecap="butt" stroke-dasharray="9.5,8" stroke-dashoffset="2"/>
<path d="M47.37,918.48 L47.45,916.98 L47.54,915.49 L47.64,914.00 L47.76,912.51 L47.89,911.03 L48.03,909.54 L48.19,908.06 L48.35,906.58 L48.53,905.10 L48.72,903.62 L48.92,902.14 L49.13,900.67 L49.35,899.19 L49.59,897.72 L49.83,896.25 L50.09,894.79 L50.36,893.32 L50.64,891.86 L50.93,890.40 L51.23,888.94 L51.54,887.48 L51.86,886.03 L52.20,884.58 L52.54,883.13 L52.89,881.68 L53.25,880.24 L53.62,878.79 L54.01,877.35 L54.40,875.91 L54.80,874.48 L55.21,873.04 L55.63,871.61 L56.06,870.18 L56.50,868.76 L56.95,867.33 L57.40,865.91 L57.87,864.49 L58.34,863.08 L58.83,861.66 L59.32,860.25 L59.82,858.84 L60.33,857.44 L60.84,856.04 L61.37,854.63 L61.90,853.24 L62.44,851.84 L62.99,850.45 L63.54,849.06 L64.11,847.68 L64.68,846.29 L65.26,844.91 L65.84,843.54 L66.43,842.16 L67.03,840.79 L67.64,839.42 L68.25,838.06 L68.87,836.69 L69.50,835.34 L70.13,833.98 L70.77,832.63 L71.41,831.28 L72.07,829.93 L72.72,828.59 L73.39,827.25 L74.06,825.91 L74.73,824.58 L75.41,823.25 L76.10,821.92 L76.79,820.60 L77.49,819.28 L78.19,817.97 L78.90,816.65 L79.61,815.34 L80.33,814.04 L81.05,812.73 L81.78,811.44 L82.52,810.14 L83.26,808.85 L84.00,807.56 L84.76,806.27 L85.51,804.99 L86.28,803.71 L87.04,802.44 L87.82,801.17 L88.60,799.90 L89.39,798.63 L90.18,797.37 L90.97,796.11 L91.78,794.86 L92.59,793.61 L93.40,792.36 L94.22,791.12 L95.05,789.88 L95.89,788.65 L96.73,787.42 L97.58,786.19 L98.43,784.97 L99.29,783.76 L100.16,782.55 L101.04,781.34 L101.92,780.14 L102.81,778.95 L103.71,777.76 L104.61,776.58 L105.53,775.40 L106.45,774.23 L107.37,773.06 L108.31,771.90 L109.25,770.74 L110.20,769.59 L111.15,768.44 L112.11,767.30 L113.08,766.17 L114.05,765.04 L115.04,763.91 L116.02,762.79 L117.02,761.68 L118.02,760.57 L119.02,759.47 L120.04,758.37 L121.06,757.27 L122.08,756.18 L123.11,755.10 L124.15,754.02 L125.19,752.95 L126.24,751.88 L127.29,750.82 L128.35,749.77 L129.42,748.72 L130.49,747.67 L131.57,746.63 L132.65,745.60 L133.74,744.58 L134.83,743.55 L135.93,742.54 L137.03,741.53 L138.14,740.53 L139.25,739.53 L140.37,738.54 L141.49,737.55 L142.62,736.58 L143.75,735.60 L144.89,734.64 L146.03,733.67 L147.18,732.72 L148.33,731.77 L149.49,730.83 L150.65,729.89 L151.82,728.96 L152.99,728.04 L154.16,727.12 L155.34,726.21 L156.53,725.30 L157.72,724.40 L158.91,723.50 L160.11,722.62 L161.31,721.73 L162.52,720.86 L163.73,719.99 L164.95,719.13 L166.17,718.27 L167.39,717.42 L168.62,716.57 L169.85,715.73 L171.09,714.90 L172.33,714.08 L173.58,713.25 L174.83,712.44 L176.08,711.63 L177.34,710.83 L178.60,710.04 L179.86,709.25 L181.13,708.46 L182.41,707.69 L183.68,706.92 L184.96,706.15 L186.25,705.40 L187.54,704.64 L188.83,703.90 L190.12,703.16 L191.42,702.43 L192.72,701.70 L194.03,700.98 L195.34,700.27 L196.65,699.56 L197.97,698.86 L199.29,698.16 L200.61,697.47 L201.94,696.79 L203.27,696.12 L204.61,695.45 L205.94,694.78 L207.28,694.13 L208.63,693.48 L209.97,692.83 L211.32,692.20 L212.67,691.56 L214.03,690.94 L215.39,690.32 L216.75,689.71 L218.12,689.10 L219.48,688.51 L220.85,687.91 L222.23,687.33 L223.60,686.75 L224.98,686.17 L226.36,685.61 L227.75,685.05 L229.14,684.49 L230.53,683.95 L231.92,683.41 L233.31,682.87 L234.71,682.34 L236.11,681.82 L237.51,681.31 L238.92,680.80 L240.33,680.29 L241.73,679.80 L243.15,679.31 L244.56,678.83 L245.98,678.35 L247.39,677.88 L248.81,677.41 L250.24,676.96 L251.66,676.50 L253.09,676.06 L254.52,675.62 L255.95,675.19 L257.38,674.76 L258.81,674.34 L260.25,673.93 L261.68,673.52 L263.12,673.12 L264.56,672.73 L266.01,672.34 L267.45,671.96 L268.90,671.58 L270.34,671.21 L271.79,670.85 L273.24,670.49 L274.69,670.14 L276.14,669.80 L277.60,669.46 L279.05,669.13 L280.51,668.80 L281.96,668.49 L283.42,668.17 L284.88,667.87 L286.34,667.57 L287.80,667.27 L289.27,666.99 L290.73,666.71 L292.19,666.43 L293.66,666.16 L295.12,665.90 L296.59,665.64 L298.06,665.39 L299.53,665.15 L300.99,664.91" fill="none" stroke="#f0622d" stroke-width="1.7" stroke-linecap="butt" />
<rect x="47.2" y="664.9000000000001" width="253.8" height="253.8" fill="none" stroke="#111" stroke-width="1.8"/>
<line x1="42.2" y1="918.70" x2="47.2" y2="918.70" stroke="#111" stroke-width="1.6"/>
<text x="40.70" y="922.30" font-size="10.5" text-anchor="end" font-weight="normal" fill="#1a1a1a" >0.0</text>
<line x1="47.20" y1="918.7" x2="47.20" y2="923.7" stroke="#111" stroke-width="1.6"/>
<text x="47.20" y="933.10" font-size="10.5" text-anchor="middle" font-weight="normal" fill="#1a1a1a" >0.0</text>
<line x1="42.2" y1="867.94" x2="47.2" y2="867.94" stroke="#111" stroke-width="1.6"/>
<text x="40.70" y="871.54" font-size="10.5" text-anchor="end" font-weight="normal" fill="#1a1a1a" >0.2</text>
<line x1="97.96" y1="918.7" x2="97.96" y2="923.7" stroke="#111" stroke-width="1.6"/>
<text x="97.96" y="933.10" font-size="10.5" text-anchor="middle" font-weight="normal" fill="#1a1a1a" >0.2</text>
<line x1="42.2" y1="817.18" x2="47.2" y2="817.18" stroke="#111" stroke-width="1.6"/>
<text x="40.70" y="820.78" font-size="10.5" text-anchor="end" font-weight="normal" fill="#1a1a1a" >0.4</text>
<line x1="148.72" y1="918.7" x2="148.72" y2="923.7" stroke="#111" stroke-width="1.6"/>
<text x="148.72" y="933.10" font-size="10.5" text-anchor="middle" font-weight="normal" fill="#1a1a1a" >0.4</text>
<line x1="42.2" y1="766.42" x2="47.2" y2="766.42" stroke="#111" stroke-width="1.6"/>
<text x="40.70" y="770.02" font-size="10.5" text-anchor="end" font-weight="normal" fill="#1a1a1a" >0.6</text>
<line x1="199.48" y1="918.7" x2="199.48" y2="923.7" stroke="#111" stroke-width="1.6"/>
<text x="199.48" y="933.10" font-size="10.5" text-anchor="middle" font-weight="normal" fill="#1a1a1a" >0.6</text>
<line x1="42.2" y1="715.66" x2="47.2" y2="715.66" stroke="#111" stroke-width="1.6"/>
<text x="40.70" y="719.26" font-size="10.5" text-anchor="end" font-weight="normal" fill="#1a1a1a" >0.8</text>
<line x1="250.24" y1="918.7" x2="250.24" y2="923.7" stroke="#111" stroke-width="1.6"/>
<text x="250.24" y="933.10" font-size="10.5" text-anchor="middle" font-weight="normal" fill="#1a1a1a" >0.8</text>
<line x1="42.2" y1="664.90" x2="47.2" y2="664.90" stroke="#111" stroke-width="1.6"/>
<text x="40.70" y="668.50" font-size="10.5" text-anchor="end" font-weight="normal" fill="#1a1a1a" >1.0</text>
<line x1="301.00" y1="918.7" x2="301.00" y2="923.7" stroke="#111" stroke-width="1.6"/>
<text x="301.00" y="933.10" font-size="10.5" text-anchor="middle" font-weight="normal" fill="#1a1a1a" >1.0</text>
<text x="174.10" y="958.50" font-size="16.8" text-anchor="middle" font-weight="normal" fill="#1a1a1a" >1-Specificity</text>
<text x="0" y="0" font-size="17.6" text-anchor="middle" fill="#1a1a1a" transform="translate(18.6,792.0) rotate(-90)">Sensitivity</text>
<line x1="176.2" y1="843.10" x2="200.2" y2="843.10" stroke="#f0622d" stroke-width="1.5"/>
<text x="204.40" y="846.10" font-size="9.1" text-anchor="start" font-weight="normal" fill="#333" >Mean（AUC=0.749)</text>
<line x1="176.2" y1="852.22" x2="200.2" y2="852.22" stroke="#f57fb8" stroke-width="1.5" stroke-dasharray="5,4"/>
<text x="204.40" y="855.22" font-size="9.1" text-anchor="start" font-weight="normal" fill="#333" >Fold 1 (AUC=0.715)</text>
<line x1="176.2" y1="861.34" x2="200.2" y2="861.34" stroke="#86c440" stroke-width="1.5" stroke-dasharray="5,4"/>
<text x="204.40" y="864.34" font-size="9.1" text-anchor="start" font-weight="normal" fill="#333" >Fold 2 (AUC=0.693)</text>
<line x1="176.2" y1="870.46" x2="200.2" y2="870.46" stroke="#f6a93b" stroke-width="1.5" stroke-dasharray="5,4"/>
<text x="204.40" y="873.46" font-size="9.1" text-anchor="start" font-weight="normal" fill="#333" >Fold 3 (AUC=0.646)</text>
<line x1="176.2" y1="879.58" x2="200.2" y2="879.58" stroke="#35a9e1" stroke-width="1.5" stroke-dasharray="5,4"/>
<text x="204.40" y="882.58" font-size="9.1" text-anchor="start" font-weight="normal" fill="#333" >Fold 4 (AUC=0.752)</text>
<line x1="176.2" y1="888.70" x2="200.2" y2="888.70" stroke="#8d2a8c" stroke-width="1.5" stroke-dasharray="5,4"/>
<text x="204.40" y="891.70" font-size="9.1" text-anchor="start" font-weight="normal" fill="#333" >Fold 5 (AUC=0.692)</text>
<text transform="translate(1.8,368.4) scale(0.95,1)" font-size="23.3" fill="#1a1a1a">B</text>
<text x="4.80" y="395.80" font-size="11.66" text-anchor="start" font-weight="bold" fill="#111" >The performance of R-signature in training cohort</text>
<rect x="4.4" y="401.5" width="336.6" height="20.80000000000001" fill="#fbced2"/>
<rect x="4.4" y="422.3" width="336.6" height="29.19999999999999" fill="#d3e9f6"/>
<rect x="4.4" y="451.5" width="336.6" height="29.5" fill="#fbced2"/>
<rect x="4.4" y="481" width="336.6" height="29.30000000000001" fill="#d3e9f6"/>
<rect x="4.4" y="510.3" width="336.6" height="29.30000000000001" fill="#fbced2"/>
<rect x="4.4" y="539.6" width="336.6" height="29.699999999999932" fill="#d3e9f6"/>
<line x1="4.4" y1="401.5" x2="341" y2="401.5" stroke="#46363a" stroke-width="1.3"/>
<line x1="4.4" y1="422.3" x2="341" y2="422.3" stroke="#46363a" stroke-width="1.3"/>
<line x1="4.4" y1="451.5" x2="341" y2="451.5" stroke="#46363a" stroke-width="1.3"/>
<line x1="4.4" y1="481" x2="341" y2="481" stroke="#46363a" stroke-width="1.3"/>
<line x1="4.4" y1="510.3" x2="341" y2="510.3" stroke="#46363a" stroke-width="1.3"/>
<line x1="4.4" y1="539.6" x2="341" y2="539.6" stroke="#46363a" stroke-width="1.3"/>
<line x1="4.4" y1="569.3" x2="341" y2="569.3" stroke="#46363a" stroke-width="1.3"/>
<text x="33.90" y="416.10" font-size="9.8" text-anchor="middle" font-weight="bold" fill="#111" >R-signature</text>
<text x="100.50" y="416.10" font-size="9.8" text-anchor="middle" font-weight="bold" fill="#111" >AUC (95% CI)</text>
<text x="171.00" y="416.10" font-size="9.8" text-anchor="middle" font-weight="bold" fill="#111" >ACC (95% CI)</text>
<text x="238.60" y="416.10" font-size="9.8" text-anchor="middle" font-weight="bold" fill="#111" >SEN (95% CI)</text>
<text x="305.20" y="416.10" font-size="9.8" text-anchor="middle" font-weight="bold" fill="#111" >SPE (95% CI)</text>
<text x="35.10" y="441.10" font-size="9.6" text-anchor="middle" font-weight="normal" fill="#222" >Fold 1</text>
<text x="101.00" y="434.30" font-size="9.6" text-anchor="middle" font-weight="normal" fill="#222" >0.994</text>
<text x="101.00" y="445.90" font-size="9.6" text-anchor="middle" font-weight="normal" fill="#222" >(0.990-0.998)</text>
<text x="171.00" y="434.30" font-size="9.6" text-anchor="middle" font-weight="normal" fill="#222" >97.5%</text>
<text x="171.00" y="445.90" font-size="9.6" text-anchor="middle" font-weight="normal" fill="#222" >(97.5%-97.5%)</text>
<text x="238.60" y="434.30" font-size="9.6" text-anchor="middle" font-weight="normal" fill="#222" >97.9%</text>
<text x="238.60" y="445.90" font-size="9.6" text-anchor="middle" font-weight="normal" fill="#222" >(96.1%-99.7%)</text>
<text x="305.90" y="434.30" font-size="9.6" text-anchor="middle" font-weight="normal" fill="#222" >97.2%</text>
<text x="305.90" y="445.90" font-size="9.6" text-anchor="middle" font-weight="normal" fill="#222" >(95.4%-99.0%)</text>
<text x="35.10" y="470.45" font-size="9.6" text-anchor="middle" font-weight="normal" fill="#222" >Fold 2</text>
<text x="101.00" y="463.65" font-size="9.6" text-anchor="middle" font-weight="normal" fill="#222" >0.998</text>
<text x="101.00" y="475.25" font-size="9.6" text-anchor="middle" font-weight="normal" fill="#222" >(0.996-1.000)</text>
<text x="171.00" y="463.65" font-size="9.6" text-anchor="middle" font-weight="normal" fill="#222" >98.4%</text>
<text x="171.00" y="475.25" font-size="9.6" text-anchor="middle" font-weight="normal" fill="#222" >(98.4%-98.4%)</text>
<text x="238.60" y="463.65" font-size="9.6" text-anchor="middle" font-weight="normal" fill="#222" >99.2%</text>
<text x="238.60" y="475.25" font-size="9.6" text-anchor="middle" font-weight="normal" fill="#222" >(98.0%-100.0%)</text>
<text x="305.90" y="463.65" font-size="9.6" text-anchor="middle" font-weight="normal" fill="#222" >97.8%</text>
<text x="305.90" y="475.25" font-size="9.6" text-anchor="middle" font-weight="normal" fill="#222" >(96.2%-99.4%)</text>
<text x="35.10" y="499.85" font-size="9.6" text-anchor="middle" font-weight="normal" fill="#222" >Fold 3</text>
<text x="101.00" y="493.05" font-size="9.6" text-anchor="middle" font-weight="normal" fill="#222" >0.995</text>
<text x="101.00" y="504.65" font-size="9.6" text-anchor="middle" font-weight="normal" fill="#222" >(0.990-1.000)</text>
<text x="171.00" y="493.05" font-size="9.6" text-anchor="middle" font-weight="normal" fill="#222" >98.6%</text>
<text x="171.00" y="504.65" font-size="9.6" text-anchor="middle" font-weight="normal" fill="#222" >(98.6%-98.6%)</text>
<text x="238.60" y="493.05" font-size="9.6" text-anchor="middle" font-weight="normal" fill="#222" >97.9%</text>
<text x="238.60" y="504.65" font-size="9.6" text-anchor="middle" font-weight="normal" fill="#222" >(96.1%-99.7%)</text>
<text x="305.90" y="493.05" font-size="9.6" text-anchor="middle" font-weight="normal" fill="#222" >99.1%</text>
<text x="305.90" y="504.65" font-size="9.6" text-anchor="middle" font-weight="normal" fill="#222" >(98.0%-100.0%)</text>
<text x="35.10" y="529.15" font-size="9.6" text-anchor="middle" font-weight="normal" fill="#222" >Fold 4</text>
<text x="101.00" y="522.35" font-size="9.6" text-anchor="middle" font-weight="normal" fill="#222" >0.992</text>
<text x="101.00" y="533.95" font-size="9.6" text-anchor="middle" font-weight="normal" fill="#222" >(0.986-0.998)</text>
<text x="171.00" y="522.35" font-size="9.6" text-anchor="middle" font-weight="normal" fill="#222" >97.7%</text>
<text x="171.00" y="533.95" font-size="9.6" text-anchor="middle" font-weight="normal" fill="#222" >(97.7%-97.7%)</text>
<text x="238.60" y="522.35" font-size="9.6" text-anchor="middle" font-weight="normal" fill="#222" >96.7%</text>
<text x="238.60" y="533.95" font-size="9.6" text-anchor="middle" font-weight="normal" fill="#222" >(94.4%-98.9%)</text>
<text x="305.90" y="522.35" font-size="9.6" text-anchor="middle" font-weight="normal" fill="#222" >98.4 %</text>
<text x="305.90" y="533.95" font-size="9.6" text-anchor="middle" font-weight="normal" fill="#222" >(97.1%-99.8%)</text>
<text x="35.10" y="558.65" font-size="9.6" text-anchor="middle" font-weight="normal" fill="#222" >Fold 5</text>
<text x="101.00" y="551.85" font-size="9.6" text-anchor="middle" font-weight="normal" fill="#222" >0.993</text>
<text x="101.00" y="563.45" font-size="9.6" text-anchor="middle" font-weight="normal" fill="#222" >(0.988-0.997)</text>
<text x="171.00" y="551.85" font-size="9.6" text-anchor="middle" font-weight="normal" fill="#222" >96.6%</text>
<text x="171.00" y="563.45" font-size="9.6" text-anchor="middle" font-weight="normal" fill="#222" >(96.6%-96.6%)</text>
<text x="238.60" y="551.85" font-size="9.6" text-anchor="middle" font-weight="normal" fill="#222" >93.3%</text>
<text x="238.60" y="563.45" font-size="9.6" text-anchor="middle" font-weight="normal" fill="#222" >(90.2%-96.5%)</text>
<text x="305.90" y="551.85" font-size="9.6" text-anchor="middle" font-weight="normal" fill="#222" >99.1%</text>
<text x="305.90" y="563.45" font-size="9.6" text-anchor="middle" font-weight="normal" fill="#222" >(98.0%-100.0%)</text>
<text transform="translate(338.2,368.5) scale(0.95,1)" font-size="23.3" fill="#1a1a1a">D</text>
<text x="345.50" y="395.80" font-size="11.66" text-anchor="start" font-weight="bold" fill="#111" >The performance of R-signature in internal validation cohort</text>
<rect x="345.1" y="401.3" width="339.1" height="20.899999999999977" fill="#fbced2"/>
<rect x="345.1" y="422.2" width="339.1" height="28.69999999999999" fill="#d3e9f6"/>
<rect x="345.1" y="450.9" width="339.1" height="30.0" fill="#fbced2"/>
<rect x="345.1" y="480.9" width="339.1" height="29.5" fill="#d3e9f6"/>
<rect x="345.1" y="510.4" width="339.1" height="29.200000000000045" fill="#fbced2"/>
<rect x="345.1" y="539.6" width="339.1" height="29.600000000000023" fill="#d3e9f6"/>
<line x1="345.1" y1="401.3" x2="684.2" y2="401.3" stroke="#46363a" stroke-width="1.3"/>
<line x1="345.1" y1="422.2" x2="684.2" y2="422.2" stroke="#46363a" stroke-width="1.3"/>
<line x1="345.1" y1="450.9" x2="684.2" y2="450.9" stroke="#46363a" stroke-width="1.3"/>
<line x1="345.1" y1="480.9" x2="684.2" y2="480.9" stroke="#46363a" stroke-width="1.3"/>
<line x1="345.1" y1="510.4" x2="684.2" y2="510.4" stroke="#46363a" stroke-width="1.3"/>
<line x1="345.1" y1="539.6" x2="684.2" y2="539.6" stroke="#46363a" stroke-width="1.3"/>
<line x1="345.1" y1="569.2" x2="684.2" y2="569.2" stroke="#46363a" stroke-width="1.3"/>
<text x="374.30" y="415.95" font-size="9.8" text-anchor="middle" font-weight="bold" fill="#111" >R-signature</text>
<text x="441.20" y="415.95" font-size="9.8" text-anchor="middle" font-weight="bold" fill="#111" >AUC (95% CI)</text>
<text x="511.50" y="415.95" font-size="9.8" text-anchor="middle" font-weight="bold" fill="#111" >ACC (95% CI)</text>
<text x="579.30" y="415.95" font-size="9.8" text-anchor="middle" font-weight="bold" fill="#111" >SEN (95% CI)</text>
<text x="645.70" y="415.95" font-size="9.8" text-anchor="middle" font-weight="bold" fill="#111" >SPE (95% CI)</text>
<text x="375.50" y="440.75" font-size="9.6" text-anchor="middle" font-weight="normal" fill="#222" >Fold 1</text>
<text x="441.20" y="433.95" font-size="9.6" text-anchor="middle" font-weight="normal" fill="#222" >0.961</text>
<text x="441.20" y="445.55" font-size="9.6" text-anchor="middle" font-weight="normal" fill="#222" >(0.922-1.000)</text>
<text x="511.90" y="433.95" font-size="9.6" text-anchor="middle" font-weight="normal" fill="#222" >95.0%</text>
<text x="511.90" y="445.55" font-size="9.6" text-anchor="middle" font-weight="normal" fill="#222" >(94.9%-95.1%)</text>
<text x="579.30" y="433.95" font-size="9.6" text-anchor="middle" font-weight="normal" fill="#222" >95.0%</text>
<text x="579.30" y="445.55" font-size="9.6" text-anchor="middle" font-weight="normal" fill="#222" >(89.5%-100.0%)</text>
<text x="648.50" y="433.95" font-size="9.6" text-anchor="middle" font-weight="normal" fill="#222" >95.0%</text>
<text x="648.50" y="445.55" font-size="9.6" text-anchor="middle" font-weight="normal" fill="#222" >(90.2%-99.8%)</text>
<text x="375.50" y="470.10" font-size="9.6" text-anchor="middle" font-weight="normal" fill="#222" >Fold 2</text>
<text x="441.20" y="463.30" font-size="9.6" text-anchor="middle" font-weight="normal" fill="#222" >0.991</text>
<text x="441.20" y="474.90" font-size="9.6" text-anchor="middle" font-weight="normal" fill="#222" >(0.982-1.000)</text>
<text x="511.90" y="463.30" font-size="9.6" text-anchor="middle" font-weight="normal" fill="#222" >95.7%</text>
<text x="511.90" y="474.90" font-size="9.6" text-anchor="middle" font-weight="normal" fill="#222" >(95.7%-95.8%)</text>
<text x="579.30" y="463.30" font-size="9.6" text-anchor="middle" font-weight="normal" fill="#222" >95.0%</text>
<text x="579.30" y="474.90" font-size="9.6" text-anchor="middle" font-weight="normal" fill="#222" >(89.5%-100.0%)</text>
<text x="648.50" y="463.30" font-size="9.6" text-anchor="middle" font-weight="normal" fill="#222" >96.3%</text>
<text x="648.50" y="474.90" font-size="9.6" text-anchor="middle" font-weight="normal" fill="#222" >(92.1%-100.0%)</text>
<text x="375.50" y="499.85" font-size="9.6" text-anchor="middle" font-weight="normal" fill="#222" >Fold 3</text>
<text x="441.20" y="493.05" font-size="9.6" text-anchor="middle" font-weight="normal" fill="#222" >0.985</text>
<text x="441.20" y="504.65" font-size="9.6" text-anchor="middle" font-weight="normal" fill="#222" >(0.967-1.000)</text>
<text x="511.90" y="493.05" font-size="9.6" text-anchor="middle" font-weight="normal" fill="#222" >97.1%</text>
<text x="511.90" y="504.65" font-size="9.6" text-anchor="middle" font-weight="normal" fill="#222" >(97.1%-97.2%)</text>
<text x="579.30" y="493.05" font-size="9.6" text-anchor="middle" font-weight="normal" fill="#222" >96.7%</text>
<text x="579.30" y="504.65" font-size="9.6" text-anchor="middle" font-weight="normal" fill="#222" >(92.1%-100.0%)</text>
<text x="648.50" y="493.05" font-size="9.6" text-anchor="middle" font-weight="normal" fill="#222" >97.5%</text>
<text x="648.50" y="504.65" font-size="9.6" text-anchor="middle" font-weight="normal" fill="#222" >(94.1%-100.0%)</text>
<text x="375.50" y="529.20" font-size="9.6" text-anchor="middle" font-weight="normal" fill="#222" >Fold 4</text>
<text x="441.20" y="522.40" font-size="9.6" text-anchor="middle" font-weight="normal" fill="#222" >0.966</text>
<text x="441.20" y="534.00" font-size="9.6" text-anchor="middle" font-weight="normal" fill="#222" >(0.937-0.995)</text>
<text x="511.90" y="522.40" font-size="9.6" text-anchor="middle" font-weight="normal" fill="#222" >94.3%</text>
<text x="511.90" y="534.00" font-size="9.6" text-anchor="middle" font-weight="normal" fill="#222" >(94.2%-94.4%)</text>
<text x="579.30" y="522.40" font-size="9.6" text-anchor="middle" font-weight="normal" fill="#222" >91.7%</text>
<text x="579.30" y="534.00" font-size="9.6" text-anchor="middle" font-weight="normal" fill="#222" >(84.7%-98.7%)</text>
<text x="648.50" y="522.40" font-size="9.6" text-anchor="middle" font-weight="normal" fill="#222" >96.3%</text>
<text x="648.50" y="534.00" font-size="9.6" text-anchor="middle" font-weight="normal" fill="#222" >(92.1%-100.0%)</text>
<text x="375.50" y="558.60" font-size="9.6" text-anchor="middle" font-weight="normal" fill="#222" >Fold 5</text>
<text x="441.20" y="551.80" font-size="9.6" text-anchor="middle" font-weight="normal" fill="#222" >0.975</text>
<text x="441.20" y="563.40" font-size="9.6" text-anchor="middle" font-weight="normal" fill="#222" >(0.949-1.000)</text>
<text x="511.90" y="551.80" font-size="9.6" text-anchor="middle" font-weight="normal" fill="#222" >95.0%</text>
<text x="511.90" y="563.40" font-size="9.6" text-anchor="middle" font-weight="normal" fill="#222" >(94.9%-95.1%)</text>
<text x="579.30" y="551.80" font-size="9.6" text-anchor="middle" font-weight="normal" fill="#222" >91.7%</text>
<text x="579.30" y="563.40" font-size="9.6" text-anchor="middle" font-weight="normal" fill="#222" >(84.7%-98.7%)</text>
<text x="648.50" y="551.80" font-size="9.6" text-anchor="middle" font-weight="normal" fill="#222" >97.5%</text>
<text x="648.50" y="563.40" font-size="9.6" text-anchor="middle" font-weight="normal" fill="#222" >(94.1%-100.0%)</text>
<text transform="translate(338.2,646.5) scale(0.95,1)" font-size="23.3" fill="#1a1a1a">F</text>
<text x="342.40" y="672.10" font-size="11.66" text-anchor="start" font-weight="bold" fill="#111" >The performance of R-signature in t-FL test cohort</text>
<rect x="342" y="678.3" width="343" height="20.200000000000045" fill="#fbced2"/>
<rect x="342" y="698.5" width="343" height="29.600000000000023" fill="#d3e9f6"/>
<rect x="342" y="728.1" width="343" height="29.399999999999977" fill="#fbced2"/>
<rect x="342" y="757.5" width="343" height="29.5" fill="#d3e9f6"/>
<rect x="342" y="787" width="343" height="29.399999999999977" fill="#fbced2"/>
<rect x="342" y="816.4" width="343" height="29.300000000000068" fill="#d3e9f6"/>
<rect x="342" y="845.7" width="343" height="29.799999999999955" fill="#fbced2"/>
<line x1="342" y1="678.3" x2="685" y2="678.3" stroke="#46363a" stroke-width="1.3"/>
<line x1="342" y1="698.5" x2="685" y2="698.5" stroke="#46363a" stroke-width="1.3"/>
<line x1="342" y1="728.1" x2="685" y2="728.1" stroke="#46363a" stroke-width="1.3"/>
<line x1="342" y1="757.5" x2="685" y2="757.5" stroke="#46363a" stroke-width="1.3"/>
<line x1="342" y1="787" x2="685" y2="787" stroke="#46363a" stroke-width="1.3"/>
<line x1="342" y1="816.4" x2="685" y2="816.4" stroke="#46363a" stroke-width="1.3"/>
<line x1="342" y1="845.7" x2="685" y2="845.7" stroke="#46363a" stroke-width="1.3"/>
<line x1="342" y1="875.5" x2="685" y2="875.5" stroke="#46363a" stroke-width="1.3"/>
<text x="372.00" y="692.60" font-size="9.8" text-anchor="middle" font-weight="bold" fill="#111" >R-signature</text>
<text x="439.80" y="692.60" font-size="9.8" text-anchor="middle" font-weight="bold" fill="#111" >AUC (95% CI)</text>
<text x="511.10" y="692.60" font-size="9.8" text-anchor="middle" font-weight="bold" fill="#111" >ACC (95% CI)</text>
<text x="579.90" y="692.60" font-size="9.8" text-anchor="middle" font-weight="bold" fill="#111" >SEN (95% CI)</text>
<text x="647.50" y="692.60" font-size="9.8" text-anchor="middle" font-weight="bold" fill="#111" >SPE (95% CI)</text>
<text x="372.40" y="717.50" font-size="9.6" text-anchor="middle" font-weight="normal" fill="#222" >Fold 1</text>
<text x="439.80" y="710.70" font-size="9.6" text-anchor="middle" font-weight="normal" fill="#222" >0.715</text>
<text x="439.80" y="722.30" font-size="9.6" text-anchor="middle" font-weight="normal" fill="#222" >(0.595-0.834)</text>
<text x="511.10" y="710.70" font-size="9.6" text-anchor="middle" font-weight="normal" fill="#222" >63.8%</text>
<text x="511.10" y="722.30" font-size="9.6" text-anchor="middle" font-weight="normal" fill="#222" >(63.4%-64.2%)</text>
<text x="579.90" y="710.70" font-size="9.6" text-anchor="middle" font-weight="normal" fill="#222" >80.0%</text>
<text x="579.90" y="722.30" font-size="9.6" text-anchor="middle" font-weight="normal" fill="#222" >(64.3%-95.7%)</text>
<text x="648.70" y="710.70" font-size="9.6" text-anchor="middle" font-weight="normal" fill="#222" >58.8%</text>
<text x="648.70" y="722.30" font-size="9.6" text-anchor="middle" font-weight="normal" fill="#222" >(48.0%-69.5%)</text>
<text x="372.40" y="747.00" font-size="9.6" text-anchor="middle" font-weight="normal" fill="#222" >Fold 2</text>
<text x="439.80" y="740.20" font-size="9.6" text-anchor="middle" font-weight="normal" fill="#222" >0.693</text>
<text x="439.80" y="751.80" font-size="9.6" text-anchor="middle" font-weight="normal" fill="#222" >(0.570-0.816)</text>
<text x="511.10" y="740.20" font-size="9.6" text-anchor="middle" font-weight="normal" fill="#222" >75.2%</text>
<text x="511.10" y="751.80" font-size="9.6" text-anchor="middle" font-weight="normal" fill="#222" >(74.9%-75.6%)</text>
<text x="579.90" y="740.20" font-size="9.6" text-anchor="middle" font-weight="normal" fill="#222" >64.0%</text>
<text x="579.90" y="751.80" font-size="9.6" text-anchor="middle" font-weight="normal" fill="#222" >(45.2%-82.8%)</text>
<text x="648.70" y="740.20" font-size="9.6" text-anchor="middle" font-weight="normal" fill="#222" >78.7%</text>
<text x="648.70" y="751.80" font-size="9.6" text-anchor="middle" font-weight="normal" fill="#222" >(69.8%-87.7%)</text>
<text x="372.40" y="776.45" font-size="9.6" text-anchor="middle" font-weight="normal" fill="#222" >Fold 3</text>
<text x="439.80" y="769.65" font-size="9.6" text-anchor="middle" font-weight="normal" fill="#222" >0.646</text>
<text x="439.80" y="781.25" font-size="9.6" text-anchor="middle" font-weight="normal" fill="#222" >(0.506-0.787)</text>
<text x="511.10" y="769.65" font-size="9.6" text-anchor="middle" font-weight="normal" fill="#222" >73.3%</text>
<text x="511.10" y="781.25" font-size="9.6" text-anchor="middle" font-weight="normal" fill="#222" >(73.0%-73.7%)</text>
<text x="579.90" y="769.65" font-size="9.6" text-anchor="middle" font-weight="normal" fill="#222" >60.0%</text>
<text x="579.90" y="781.25" font-size="9.6" text-anchor="middle" font-weight="normal" fill="#222" >(40.8%-79.2%)</text>
<text x="648.70" y="769.65" font-size="9.6" text-anchor="middle" font-weight="normal" fill="#222" >77.5%</text>
<text x="648.70" y="781.25" font-size="9.6" text-anchor="middle" font-weight="normal" fill="#222" >(68.3%-86.7%)</text>
<text x="372.40" y="805.90" font-size="9.6" text-anchor="middle" font-weight="normal" fill="#222" >Fold 4</text>
<text x="439.80" y="799.10" font-size="9.6" text-anchor="middle" font-weight="normal" fill="#222" >0.752</text>
<text x="439.80" y="810.70" font-size="9.6" text-anchor="middle" font-weight="normal" fill="#222" >(0.637-0.867)</text>
<text x="511.10" y="799.10" font-size="9.6" text-anchor="middle" font-weight="normal" fill="#222" >80.0%</text>
<text x="511.10" y="810.70" font-size="9.6" text-anchor="middle" font-weight="normal" fill="#222" >(79.7%-80.3%)</text>
<text x="579.90" y="799.10" font-size="9.6" text-anchor="middle" font-weight="normal" fill="#222" >52.0%</text>
<text x="579.90" y="810.70" font-size="9.6" text-anchor="middle" font-weight="normal" fill="#222" >(32.4%-71.6%)</text>
<text x="648.70" y="799.10" font-size="9.6" text-anchor="middle" font-weight="normal" fill="#222" >88.7%</text>
<text x="648.70" y="810.70" font-size="9.6" text-anchor="middle" font-weight="normal" fill="#222" >(81.8%-95.7%)</text>
<text x="372.40" y="835.25" font-size="9.6" text-anchor="middle" font-weight="normal" fill="#222" >Fold 5</text>
<text x="439.80" y="828.45" font-size="9.6" text-anchor="middle" font-weight="normal" fill="#222" >0.692</text>
<text x="439.80" y="840.05" font-size="9.6" text-anchor="middle" font-weight="normal" fill="#222" >(0.561-0.822)</text>
<text x="511.10" y="828.45" font-size="9.6" text-anchor="middle" font-weight="normal" fill="#222" >72.4%</text>
<text x="511.10" y="840.05" font-size="9.6" text-anchor="middle" font-weight="normal" fill="#222" >(72.0%-72.8%)</text>
<text x="579.90" y="828.45" font-size="9.6" text-anchor="middle" font-weight="normal" fill="#222" >68.0%</text>
<text x="579.90" y="840.05" font-size="9.6" text-anchor="middle" font-weight="normal" fill="#222" >(49.7%-86.3%)</text>
<text x="648.70" y="828.45" font-size="9.6" text-anchor="middle" font-weight="normal" fill="#222" >73.8%</text>
<text x="648.70" y="840.05" font-size="9.6" text-anchor="middle" font-weight="normal" fill="#222" >(64.1%-83.4%)</text>
<text x="372.40" y="864.80" font-size="9.6" text-anchor="middle" font-weight="normal" fill="#222" >Mean</text>
<text x="439.80" y="858.00" font-size="9.6" text-anchor="middle" font-weight="normal" fill="#222" >0.749</text>
<text x="439.80" y="869.60" font-size="9.6" text-anchor="middle" font-weight="normal" fill="#222" >(0.635-0.863)</text>
<text x="511.10" y="858.00" font-size="9.6" text-anchor="middle" font-weight="normal" fill="#222" >75.2%</text>
<text x="511.10" y="869.60" font-size="9.6" text-anchor="middle" font-weight="normal" fill="#222" >(74.9%-75.6%)</text>
<text x="579.90" y="858.00" font-size="9.6" text-anchor="middle" font-weight="normal" fill="#222" >68.0%</text>
<text x="579.90" y="869.60" font-size="9.6" text-anchor="middle" font-weight="normal" fill="#222" >(49.7%-86.3%)</text>
<text x="648.70" y="858.00" font-size="9.6" text-anchor="middle" font-weight="normal" fill="#222" >77.5%</text>
<text x="648.70" y="869.60" font-size="9.6" text-anchor="middle" font-weight="normal" fill="#222" >(68.3%-86.7%)</text>
</svg>
</body></html>
